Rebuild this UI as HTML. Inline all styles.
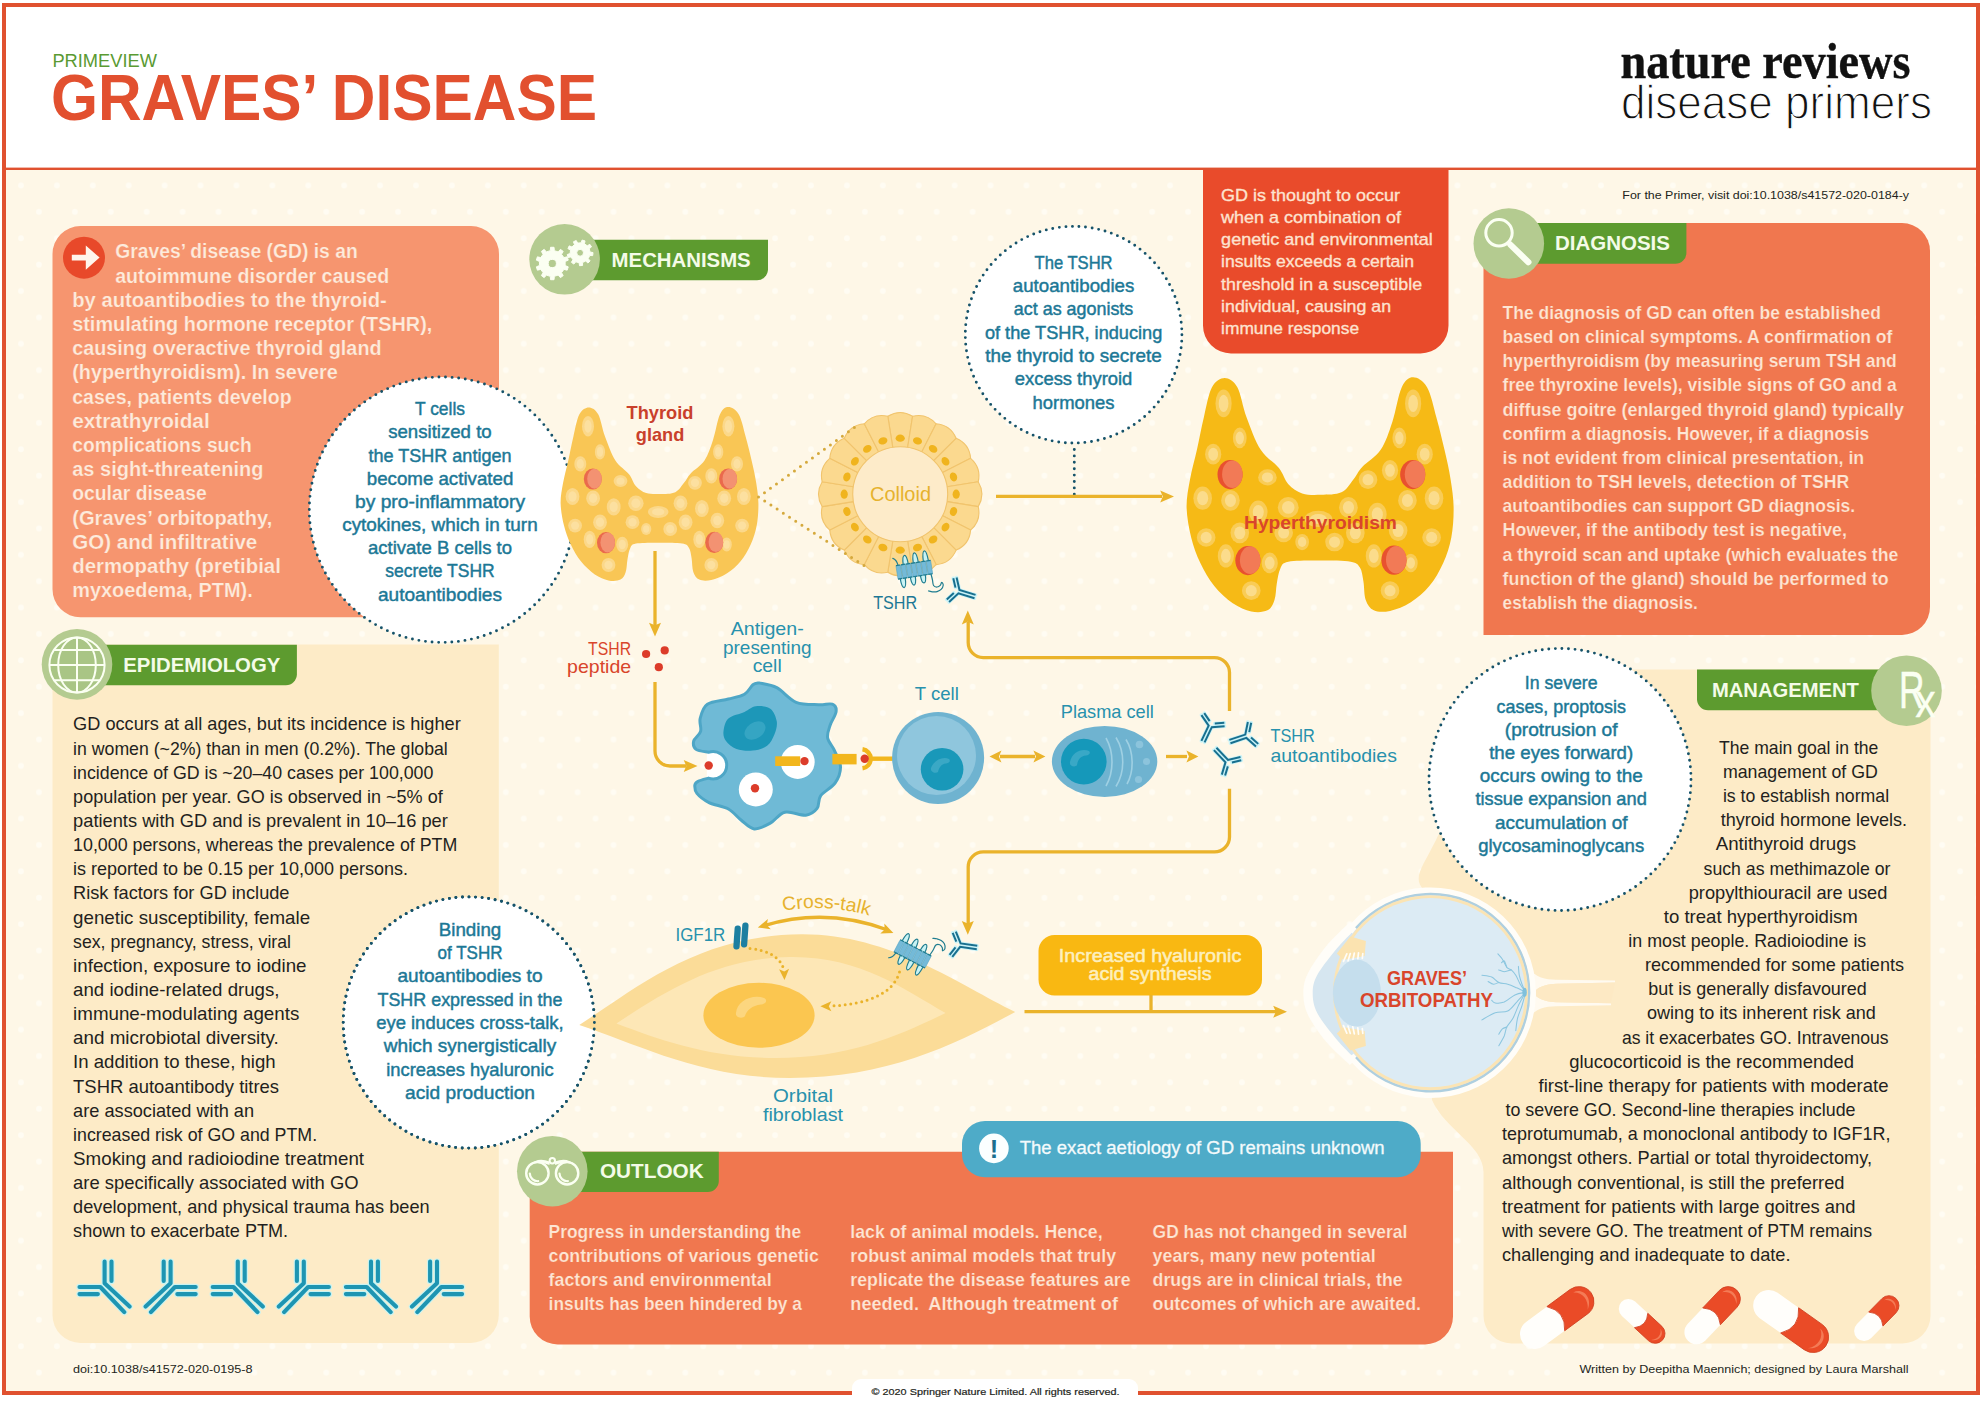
<!DOCTYPE html>
<html lang="en"><head><meta charset="utf-8"><title>Graves' disease PrimeView</title>
<style>
html,body{margin:0;padding:0;background:#fff;}
body{width:1984px;height:1401px;overflow:hidden;}
svg{display:block;font-family:"Liberation Sans",sans-serif;}
text{white-space:pre;}
</style></head><body>
<svg width="1984" height="1401" viewBox="0 0 1984 1401">
<defs>
<pattern id="dots" x="3.05" y="172.3" width="35.91" height="52.76" patternUnits="userSpaceOnUse">
<circle cx="17.95" cy="13.19" r="2.9" fill="#fffcf3"/><circle cx="0" cy="39.57" r="2.9" fill="#fffcf3"/><circle cx="35.91" cy="39.57" r="2.9" fill="#fffcf3"/>
</pattern>
</defs>
<rect x="0" y="0" width="1984" height="1401" fill="#fff"/>
<rect x="4" y="169" width="1974" height="1224" fill="#fef7e7"/>
<rect x="4" y="169" width="1974" height="1224" fill="url(#dots)"/>
<rect x="4" y="5" width="1974" height="163" fill="#fff"/>
<path d="M80.5,226.0 L471.0,226.0 A28,28 0 0 1 499.0,254.0 L499.0,589.3 A28,28 0 0 1 471.0,617.3 L80.5,617.3 A28,28 0 0 1 52.5,589.3 L52.5,254.0 A28,28 0 0 1 80.5,226.0 Z" fill="#f6956f" />
<path d="M52.5,644.6 L498.8,644.6 L498.8,1315.0 A28,28 0 0 1 470.8,1343.0 L80.5,1343.0 A28,28 0 0 1 52.5,1315.0 L52.5,644.6 Z" fill="#fdebc7" />
<path d="M1203.0,168.0 L1448.5,168.0 L1448.5,325.5 A28,28 0 0 1 1420.5,353.5 L1231.0,353.5 A28,28 0 0 1 1203.0,325.5 L1203.0,168.0 Z" fill="#e94b2b" />
<path d="M1483.5,223.0 L1902.0,223.0 A28,28 0 0 1 1930.0,251.0 L1930.0,607.0 A28,28 0 0 1 1902.0,635.0 L1483.5,635.0 L1483.5,223.0 Z" fill="#f0774f" />
<path d="M1483.5,669.5 L1930.5,669.5 L1930.5,1315.5 A28,28 0 0 1 1902.5,1343.5 L1511.5,1343.5 A28,28 0 0 1 1483.5,1315.5 L1483.5,1172 C1483.5,1145 1445,1130 1432,1100 L1424,890 C1412,878 1422,868 1436,840 C1446,815 1483.5,800 1483.5,780 Z" fill="#fdebc7"/>
<path d="M529.7,1151.7 L1453.0,1151.7 L1453.0,1316.5 A28,28 0 0 1 1425.0,1344.5 L557.7,1344.5 A28,28 0 0 1 529.7,1316.5 L529.7,1151.7 Z" fill="#f0774f" />
<path d="M985.0,1121.0 L1397.7,1121.0 A23,23 0 0 1 1420.7,1144.0 L1420.7,1154.3 A23,23 0 0 1 1397.7,1177.3 L985.0,1177.3 A23,23 0 0 1 962.0,1154.3 L962.0,1144.0 A23,23 0 0 1 985.0,1121.0 Z" fill="#4eabc8" />
<path d="M1054.5,935.0 L1246.0,935.0 A16,16 0 0 1 1262.0,951.0 L1262.0,979.5 A16,16 0 0 1 1246.0,995.5 L1054.5,995.5 A16,16 0 0 1 1038.5,979.5 L1038.5,951.0 A16,16 0 0 1 1054.5,935.0 Z" fill="#f9b812" />
<circle cx="442.0" cy="509.7" r="132.7" fill="#fff" stroke="#16536a" stroke-width="2.9" stroke-linecap="round" stroke-dasharray="0 6.617"/>
<circle cx="1073.6" cy="334.7" r="108.3" fill="#fff" stroke="#16536a" stroke-width="2.9" stroke-linecap="round" stroke-dasharray="0 6.606"/>
<circle cx="468.8" cy="1022.5" r="125.6" fill="#fff" stroke="#16536a" stroke-width="2.9" stroke-linecap="round" stroke-dasharray="0 6.576"/>
<circle cx="1560.0" cy="779.5" r="131.0" fill="#fff" stroke="#16536a" stroke-width="2.9" stroke-linecap="round" stroke-dasharray="0 6.585"/>
<path d="M1074.3,449.5 L1074.3,495.5" stroke="#16536a" stroke-width="2.9" stroke-linecap="round" stroke-dasharray="0 6.4" fill="none"/>
<path d="M588.8,407.4 C591.9,407.4 595.5,409.4 598.2,414.3 C600.9,419.2 602.1,428.8 605.0,436.5 C607.9,444.2 611.4,454.2 615.4,460.5 C619.4,466.8 625.6,469.9 629.0,474.2 C632.4,478.5 633.1,483.1 636.0,486.2 C638.9,489.3 642.2,491.7 646.2,493.0 C650.2,494.3 655.1,494.1 660.0,494.0 C664.9,493.9 671.3,494.1 675.3,492.2 C679.3,490.3 681.4,485.9 684.0,482.8 C686.6,479.7 687.3,477.1 690.7,473.4 C694.1,469.7 700.8,466.1 704.5,460.5 C708.2,454.9 710.4,447.7 713.0,440.0 C715.6,432.3 717.4,419.8 720.0,414.3 C722.6,408.8 725.3,407.0 728.4,407.0 C731.5,407.0 735.8,409.4 738.7,414.3 C741.6,419.2 743.5,428.8 745.6,436.5 C747.8,444.2 749.8,452.8 751.6,460.5 C753.4,468.2 755.1,475.7 756.2,482.8 C757.3,489.9 758.3,496.2 758.4,503.3 C758.5,510.4 758.0,518.7 756.7,525.6 C755.4,532.5 753.4,538.5 750.7,544.5 C748.0,550.5 744.4,556.8 740.4,561.6 C736.4,566.5 731.6,570.5 726.7,573.6 C721.9,576.7 715.9,579.0 711.3,580.0 C706.7,581.0 702.3,581.0 699.3,579.6 C696.3,578.2 694.6,575.5 693.3,571.9 C692.0,568.3 692.3,562.2 691.6,558.2 C690.9,554.2 690.6,550.3 689.0,547.9 C687.4,545.5 687.0,544.5 682.2,543.6 C677.4,542.7 667.7,542.7 660.0,542.7 C652.3,542.7 641.0,542.6 636.0,543.6 C631.0,544.6 631.4,546.0 630.0,548.7 C628.6,551.4 628.1,556.0 627.4,559.9 C626.7,563.8 626.9,568.6 625.7,571.9 C624.6,575.2 623.4,578.2 620.5,579.6 C617.6,581.0 612.8,581.3 608.5,580.4 C604.2,579.5 599.4,577.5 594.8,574.4 C590.2,571.3 585.1,566.6 581.1,561.6 C577.1,556.6 573.6,550.5 570.8,544.5 C567.9,538.5 565.7,532.5 564.0,525.6 C562.3,518.7 560.8,510.4 560.6,503.3 C560.5,496.2 561.8,489.9 563.1,482.8 C564.4,475.7 566.6,468.2 568.3,460.5 C570.0,452.8 571.5,444.2 573.4,436.5 C575.2,428.8 576.8,419.2 579.4,414.3 C582.0,409.4 585.7,407.4 588.8,407.4Z" fill="#f9c655"/>
<ellipse cx="588.0" cy="426.3" rx="6.0" ry="10.3" fill="#fbd88a"/>
<ellipse cx="588.0" cy="426.3" rx="3.6" ry="6.4" fill="#fce0a0"/>
<ellipse cx="600.0" cy="451.9" rx="5.1" ry="7.7" fill="#fbd88a"/>
<ellipse cx="600.0" cy="451.9" rx="3.1" ry="4.8" fill="#fce0a0"/>
<ellipse cx="580.3" cy="463.9" rx="6.0" ry="7.7" fill="#fbd88a"/>
<ellipse cx="580.3" cy="463.9" rx="3.6" ry="4.8" fill="#fce0a0"/>
<ellipse cx="572.5" cy="496.5" rx="6.9" ry="8.6" fill="#fbd88a"/>
<ellipse cx="572.5" cy="496.5" rx="4.1" ry="5.3" fill="#fce0a0"/>
<ellipse cx="593.1" cy="498.2" rx="6.9" ry="7.7" fill="#fbd88a"/>
<ellipse cx="593.1" cy="498.2" rx="4.1" ry="4.8" fill="#fce0a0"/>
<ellipse cx="613.7" cy="506.8" rx="6.9" ry="8.6" fill="#fbd88a"/>
<ellipse cx="613.7" cy="506.8" rx="4.1" ry="5.3" fill="#fce0a0"/>
<ellipse cx="575.1" cy="525.6" rx="6.9" ry="6.9" fill="#fbd88a"/>
<ellipse cx="575.1" cy="525.6" rx="4.1" ry="4.2" fill="#fce0a0"/>
<ellipse cx="600.0" cy="522.2" rx="6.9" ry="7.7" fill="#fbd88a"/>
<ellipse cx="600.0" cy="522.2" rx="4.1" ry="4.8" fill="#fce0a0"/>
<ellipse cx="589.7" cy="539.3" rx="6.0" ry="8.6" fill="#fbd88a"/>
<ellipse cx="589.7" cy="539.3" rx="3.6" ry="5.3" fill="#fce0a0"/>
<ellipse cx="608.5" cy="565.0" rx="6.9" ry="6.9" fill="#fbd88a"/>
<ellipse cx="608.5" cy="565.0" rx="4.1" ry="4.2" fill="#fce0a0"/>
<ellipse cx="620.5" cy="481.1" rx="6.9" ry="6.0" fill="#fbd88a"/>
<ellipse cx="620.5" cy="481.1" rx="4.1" ry="3.7" fill="#fce0a0"/>
<ellipse cx="635.9" cy="503.3" rx="7.7" ry="7.7" fill="#fbd88a"/>
<ellipse cx="635.9" cy="503.3" rx="4.6" ry="4.8" fill="#fce0a0"/>
<ellipse cx="632.5" cy="522.2" rx="6.9" ry="6.9" fill="#fbd88a"/>
<ellipse cx="632.5" cy="522.2" rx="4.1" ry="4.2" fill="#fce0a0"/>
<ellipse cx="646.2" cy="529.0" rx="5.1" ry="6.0" fill="#fbd88a"/>
<ellipse cx="646.2" cy="529.0" rx="3.1" ry="3.7" fill="#fce0a0"/>
<ellipse cx="658.2" cy="511.9" rx="10.3" ry="6.0" fill="#fbd88a"/>
<ellipse cx="658.2" cy="511.9" rx="6.2" ry="3.7" fill="#fce0a0"/>
<ellipse cx="670.2" cy="529.0" rx="6.9" ry="6.9" fill="#fbd88a"/>
<ellipse cx="670.2" cy="529.0" rx="4.1" ry="4.2" fill="#fce0a0"/>
<ellipse cx="680.5" cy="503.3" rx="6.9" ry="7.7" fill="#fbd88a"/>
<ellipse cx="680.5" cy="503.3" rx="4.1" ry="4.8" fill="#fce0a0"/>
<ellipse cx="685.6" cy="522.2" rx="6.9" ry="7.7" fill="#fbd88a"/>
<ellipse cx="685.6" cy="522.2" rx="4.1" ry="4.8" fill="#fce0a0"/>
<ellipse cx="695.0" cy="482.8" rx="6.9" ry="6.9" fill="#fbd88a"/>
<ellipse cx="695.0" cy="482.8" rx="4.1" ry="4.2" fill="#fce0a0"/>
<ellipse cx="701.9" cy="508.5" rx="6.9" ry="8.6" fill="#fbd88a"/>
<ellipse cx="701.9" cy="508.5" rx="4.1" ry="5.3" fill="#fce0a0"/>
<ellipse cx="699.3" cy="539.3" rx="6.0" ry="8.6" fill="#fbd88a"/>
<ellipse cx="699.3" cy="539.3" rx="3.6" ry="5.3" fill="#fce0a0"/>
<ellipse cx="711.3" cy="475.9" rx="6.0" ry="7.7" fill="#fbd88a"/>
<ellipse cx="711.3" cy="475.9" rx="3.6" ry="4.8" fill="#fce0a0"/>
<ellipse cx="717.3" cy="520.5" rx="6.9" ry="7.7" fill="#fbd88a"/>
<ellipse cx="717.3" cy="520.5" rx="4.1" ry="4.8" fill="#fce0a0"/>
<ellipse cx="718.2" cy="451.9" rx="5.1" ry="7.7" fill="#fbd88a"/>
<ellipse cx="718.2" cy="451.9" rx="3.1" ry="4.8" fill="#fce0a0"/>
<ellipse cx="728.4" cy="426.3" rx="6.0" ry="10.3" fill="#fbd88a"/>
<ellipse cx="728.4" cy="426.3" rx="3.6" ry="6.4" fill="#fce0a0"/>
<ellipse cx="737.0" cy="463.9" rx="6.0" ry="7.7" fill="#fbd88a"/>
<ellipse cx="737.0" cy="463.9" rx="3.6" ry="4.8" fill="#fce0a0"/>
<ellipse cx="743.9" cy="496.5" rx="6.9" ry="8.6" fill="#fbd88a"/>
<ellipse cx="743.9" cy="496.5" rx="4.1" ry="5.3" fill="#fce0a0"/>
<ellipse cx="724.2" cy="498.2" rx="6.9" ry="7.7" fill="#fbd88a"/>
<ellipse cx="724.2" cy="498.2" rx="4.1" ry="4.8" fill="#fce0a0"/>
<ellipse cx="742.1" cy="525.6" rx="6.9" ry="6.9" fill="#fbd88a"/>
<ellipse cx="742.1" cy="525.6" rx="4.1" ry="4.2" fill="#fce0a0"/>
<ellipse cx="711.3" cy="565.0" rx="6.9" ry="6.9" fill="#fbd88a"/>
<ellipse cx="711.3" cy="565.0" rx="4.1" ry="4.2" fill="#fce0a0"/>
<ellipse cx="726.7" cy="544.5" rx="5.1" ry="6.9" fill="#fbd88a"/>
<ellipse cx="726.7" cy="544.5" rx="3.1" ry="4.2" fill="#fce0a0"/>
<ellipse cx="622.2" cy="544.5" rx="6.0" ry="7.7" fill="#fbd88a"/>
<ellipse cx="622.2" cy="544.5" rx="3.6" ry="4.8" fill="#fce0a0"/>
<ellipse cx="592.8" cy="479.0" rx="9.0" ry="10.6" fill="#ea6a4c"/>
<ellipse cx="594.5" cy="478.7" rx="7.3" ry="10.0" fill="#f39272"/>
<ellipse cx="728.1" cy="479.0" rx="9.0" ry="10.6" fill="#ea6a4c"/>
<ellipse cx="729.8" cy="478.7" rx="7.3" ry="10.0" fill="#f39272"/>
<ellipse cx="606.0" cy="542.7" rx="9.0" ry="10.6" fill="#ea6a4c"/>
<ellipse cx="607.7" cy="542.4" rx="7.3" ry="10.0" fill="#f39272"/>
<ellipse cx="714.2" cy="542.4" rx="9.0" ry="10.6" fill="#ea6a4c"/>
<ellipse cx="715.9" cy="542.1" rx="7.3" ry="10.0" fill="#f39272"/>
<g transform="translate(1320.1,494.4) scale(1.35) translate(-659.5,-493.7)">
<path d="M588.8,407.4 C591.9,407.4 595.5,409.4 598.2,414.3 C600.9,419.2 602.1,428.8 605.0,436.5 C607.9,444.2 611.4,454.2 615.4,460.5 C619.4,466.8 625.6,469.9 629.0,474.2 C632.4,478.5 633.1,483.1 636.0,486.2 C638.9,489.3 642.2,491.7 646.2,493.0 C650.2,494.3 655.1,494.1 660.0,494.0 C664.9,493.9 671.3,494.1 675.3,492.2 C679.3,490.3 681.4,485.9 684.0,482.8 C686.6,479.7 687.3,477.1 690.7,473.4 C694.1,469.7 700.8,466.1 704.5,460.5 C708.2,454.9 710.4,447.7 713.0,440.0 C715.6,432.3 717.4,419.8 720.0,414.3 C722.6,408.8 725.3,407.0 728.4,407.0 C731.5,407.0 735.8,409.4 738.7,414.3 C741.6,419.2 743.5,428.8 745.6,436.5 C747.8,444.2 749.8,452.8 751.6,460.5 C753.4,468.2 755.1,475.7 756.2,482.8 C757.3,489.9 758.3,496.2 758.4,503.3 C758.5,510.4 758.0,518.7 756.7,525.6 C755.4,532.5 753.4,538.5 750.7,544.5 C748.0,550.5 744.4,556.8 740.4,561.6 C736.4,566.5 731.6,570.5 726.7,573.6 C721.9,576.7 715.9,579.0 711.3,580.0 C706.7,581.0 702.3,581.0 699.3,579.6 C696.3,578.2 694.6,575.5 693.3,571.9 C692.0,568.3 692.3,562.2 691.6,558.2 C690.9,554.2 690.6,550.3 689.0,547.9 C687.4,545.5 687.0,544.5 682.2,543.6 C677.4,542.7 667.7,542.7 660.0,542.7 C652.3,542.7 641.0,542.6 636.0,543.6 C631.0,544.6 631.4,546.0 630.0,548.7 C628.6,551.4 628.1,556.0 627.4,559.9 C626.7,563.8 626.9,568.6 625.7,571.9 C624.6,575.2 623.4,578.2 620.5,579.6 C617.6,581.0 612.8,581.3 608.5,580.4 C604.2,579.5 599.4,577.5 594.8,574.4 C590.2,571.3 585.1,566.6 581.1,561.6 C577.1,556.6 573.6,550.5 570.8,544.5 C567.9,538.5 565.7,532.5 564.0,525.6 C562.3,518.7 560.8,510.4 560.6,503.3 C560.5,496.2 561.8,489.9 563.1,482.8 C564.4,475.7 566.6,468.2 568.3,460.5 C570.0,452.8 571.5,444.2 573.4,436.5 C575.2,428.8 576.8,419.2 579.4,414.3 C582.0,409.4 585.7,407.4 588.8,407.4Z" fill="#f6ba16"/>
<ellipse cx="588.0" cy="426.3" rx="6.0" ry="10.3" fill="#f9cc56"/>
<ellipse cx="588.0" cy="426.3" rx="3.6" ry="6.4" fill="#fbdc8c"/>
<ellipse cx="600.0" cy="451.9" rx="5.1" ry="7.7" fill="#f9cc56"/>
<ellipse cx="600.0" cy="451.9" rx="3.1" ry="4.8" fill="#fbdc8c"/>
<ellipse cx="580.3" cy="463.9" rx="6.0" ry="7.7" fill="#f9cc56"/>
<ellipse cx="580.3" cy="463.9" rx="3.6" ry="4.8" fill="#fbdc8c"/>
<ellipse cx="572.5" cy="496.5" rx="6.9" ry="8.6" fill="#f9cc56"/>
<ellipse cx="572.5" cy="496.5" rx="4.1" ry="5.3" fill="#fbdc8c"/>
<ellipse cx="593.1" cy="498.2" rx="6.9" ry="7.7" fill="#f9cc56"/>
<ellipse cx="593.1" cy="498.2" rx="4.1" ry="4.8" fill="#fbdc8c"/>
<ellipse cx="613.7" cy="506.8" rx="6.9" ry="8.6" fill="#f9cc56"/>
<ellipse cx="613.7" cy="506.8" rx="4.1" ry="5.3" fill="#fbdc8c"/>
<ellipse cx="575.1" cy="525.6" rx="6.9" ry="6.9" fill="#f9cc56"/>
<ellipse cx="575.1" cy="525.6" rx="4.1" ry="4.2" fill="#fbdc8c"/>
<ellipse cx="600.0" cy="522.2" rx="6.9" ry="7.7" fill="#f9cc56"/>
<ellipse cx="600.0" cy="522.2" rx="4.1" ry="4.8" fill="#fbdc8c"/>
<ellipse cx="589.7" cy="539.3" rx="6.0" ry="8.6" fill="#f9cc56"/>
<ellipse cx="589.7" cy="539.3" rx="3.6" ry="5.3" fill="#fbdc8c"/>
<ellipse cx="608.5" cy="565.0" rx="6.9" ry="6.9" fill="#f9cc56"/>
<ellipse cx="608.5" cy="565.0" rx="4.1" ry="4.2" fill="#fbdc8c"/>
<ellipse cx="620.5" cy="481.1" rx="6.9" ry="6.0" fill="#f9cc56"/>
<ellipse cx="620.5" cy="481.1" rx="4.1" ry="3.7" fill="#fbdc8c"/>
<ellipse cx="635.9" cy="503.3" rx="7.7" ry="7.7" fill="#f9cc56"/>
<ellipse cx="635.9" cy="503.3" rx="4.6" ry="4.8" fill="#fbdc8c"/>
<ellipse cx="632.5" cy="522.2" rx="6.9" ry="6.9" fill="#f9cc56"/>
<ellipse cx="632.5" cy="522.2" rx="4.1" ry="4.2" fill="#fbdc8c"/>
<ellipse cx="646.2" cy="529.0" rx="5.1" ry="6.0" fill="#f9cc56"/>
<ellipse cx="646.2" cy="529.0" rx="3.1" ry="3.7" fill="#fbdc8c"/>
<ellipse cx="658.2" cy="511.9" rx="10.3" ry="6.0" fill="#f9cc56"/>
<ellipse cx="658.2" cy="511.9" rx="6.2" ry="3.7" fill="#fbdc8c"/>
<ellipse cx="670.2" cy="529.0" rx="6.9" ry="6.9" fill="#f9cc56"/>
<ellipse cx="670.2" cy="529.0" rx="4.1" ry="4.2" fill="#fbdc8c"/>
<ellipse cx="680.5" cy="503.3" rx="6.9" ry="7.7" fill="#f9cc56"/>
<ellipse cx="680.5" cy="503.3" rx="4.1" ry="4.8" fill="#fbdc8c"/>
<ellipse cx="685.6" cy="522.2" rx="6.9" ry="7.7" fill="#f9cc56"/>
<ellipse cx="685.6" cy="522.2" rx="4.1" ry="4.8" fill="#fbdc8c"/>
<ellipse cx="695.0" cy="482.8" rx="6.9" ry="6.9" fill="#f9cc56"/>
<ellipse cx="695.0" cy="482.8" rx="4.1" ry="4.2" fill="#fbdc8c"/>
<ellipse cx="701.9" cy="508.5" rx="6.9" ry="8.6" fill="#f9cc56"/>
<ellipse cx="701.9" cy="508.5" rx="4.1" ry="5.3" fill="#fbdc8c"/>
<ellipse cx="699.3" cy="539.3" rx="6.0" ry="8.6" fill="#f9cc56"/>
<ellipse cx="699.3" cy="539.3" rx="3.6" ry="5.3" fill="#fbdc8c"/>
<ellipse cx="711.3" cy="475.9" rx="6.0" ry="7.7" fill="#f9cc56"/>
<ellipse cx="711.3" cy="475.9" rx="3.6" ry="4.8" fill="#fbdc8c"/>
<ellipse cx="717.3" cy="520.5" rx="6.9" ry="7.7" fill="#f9cc56"/>
<ellipse cx="717.3" cy="520.5" rx="4.1" ry="4.8" fill="#fbdc8c"/>
<ellipse cx="718.2" cy="451.9" rx="5.1" ry="7.7" fill="#f9cc56"/>
<ellipse cx="718.2" cy="451.9" rx="3.1" ry="4.8" fill="#fbdc8c"/>
<ellipse cx="728.4" cy="426.3" rx="6.0" ry="10.3" fill="#f9cc56"/>
<ellipse cx="728.4" cy="426.3" rx="3.6" ry="6.4" fill="#fbdc8c"/>
<ellipse cx="737.0" cy="463.9" rx="6.0" ry="7.7" fill="#f9cc56"/>
<ellipse cx="737.0" cy="463.9" rx="3.6" ry="4.8" fill="#fbdc8c"/>
<ellipse cx="743.9" cy="496.5" rx="6.9" ry="8.6" fill="#f9cc56"/>
<ellipse cx="743.9" cy="496.5" rx="4.1" ry="5.3" fill="#fbdc8c"/>
<ellipse cx="724.2" cy="498.2" rx="6.9" ry="7.7" fill="#f9cc56"/>
<ellipse cx="724.2" cy="498.2" rx="4.1" ry="4.8" fill="#fbdc8c"/>
<ellipse cx="742.1" cy="525.6" rx="6.9" ry="6.9" fill="#f9cc56"/>
<ellipse cx="742.1" cy="525.6" rx="4.1" ry="4.2" fill="#fbdc8c"/>
<ellipse cx="711.3" cy="565.0" rx="6.9" ry="6.9" fill="#f9cc56"/>
<ellipse cx="711.3" cy="565.0" rx="4.1" ry="4.2" fill="#fbdc8c"/>
<ellipse cx="726.7" cy="544.5" rx="5.1" ry="6.9" fill="#f9cc56"/>
<ellipse cx="726.7" cy="544.5" rx="3.1" ry="4.2" fill="#fbdc8c"/>
<ellipse cx="622.2" cy="544.5" rx="6.0" ry="7.7" fill="#f9cc56"/>
<ellipse cx="622.2" cy="544.5" rx="3.6" ry="4.8" fill="#fbdc8c"/>
<ellipse cx="592.8" cy="479.0" rx="9.3" ry="10.8" fill="#e8512f"/>
<ellipse cx="594.5" cy="478.7" rx="7.6" ry="10.2" fill="#f27a56"/>
<ellipse cx="728.1" cy="479.0" rx="9.3" ry="10.8" fill="#e8512f"/>
<ellipse cx="729.8" cy="478.7" rx="7.6" ry="10.2" fill="#f27a56"/>
<ellipse cx="606.0" cy="542.7" rx="9.3" ry="10.8" fill="#e8512f"/>
<ellipse cx="607.7" cy="542.4" rx="7.6" ry="10.2" fill="#f27a56"/>
<ellipse cx="714.2" cy="542.4" rx="9.3" ry="10.8" fill="#e8512f"/>
<ellipse cx="715.9" cy="542.1" rx="7.6" ry="10.2" fill="#f27a56"/>
</g>
<path d="M893.0,448.8 L887.8,416.2 Q900.2,408.7 912.6,416.2 L907.4,448.8 Z" fill="#fbd98f" stroke="#f1c46d" stroke-width="1.1" stroke-linejoin="round"/>
<path d="M907.4,448.8 L912.6,416.2 Q926.6,412.9 936.1,423.8 L921.1,453.2 Z" fill="#fbd98f" stroke="#f1c46d" stroke-width="1.1" stroke-linejoin="round"/>
<path d="M921.1,453.2 L936.1,423.8 Q950.5,425.0 956.1,438.3 L932.7,461.7 Z" fill="#fbd98f" stroke="#f1c46d" stroke-width="1.1" stroke-linejoin="round"/>
<path d="M932.7,461.7 L956.1,438.3 Q969.4,443.9 970.6,458.3 L941.2,473.3 Z" fill="#fbd98f" stroke="#f1c46d" stroke-width="1.1" stroke-linejoin="round"/>
<path d="M941.2,473.3 L970.6,458.3 Q981.5,467.8 978.2,481.8 L945.6,487.0 Z" fill="#fbd98f" stroke="#f1c46d" stroke-width="1.1" stroke-linejoin="round"/>
<path d="M945.6,487.0 L978.2,481.8 Q985.7,494.2 978.2,506.6 L945.6,501.4 Z" fill="#fbd98f" stroke="#f1c46d" stroke-width="1.1" stroke-linejoin="round"/>
<path d="M945.6,501.4 L978.2,506.6 Q981.5,520.6 970.6,530.1 L941.2,515.1 Z" fill="#fbd98f" stroke="#f1c46d" stroke-width="1.1" stroke-linejoin="round"/>
<path d="M941.2,515.1 L970.6,530.1 Q969.4,544.5 956.1,550.1 L932.7,526.7 Z" fill="#fbd98f" stroke="#f1c46d" stroke-width="1.1" stroke-linejoin="round"/>
<path d="M932.7,526.7 L956.1,550.1 Q950.5,563.4 936.1,564.6 L921.1,535.2 Z" fill="#fbd98f" stroke="#f1c46d" stroke-width="1.1" stroke-linejoin="round"/>
<path d="M921.1,535.2 L936.1,564.6 Q926.6,575.5 912.6,572.2 L907.4,539.6 Z" fill="#fbd98f" stroke="#f1c46d" stroke-width="1.1" stroke-linejoin="round"/>
<path d="M907.4,539.6 L912.6,572.2 Q900.2,579.7 887.8,572.2 L893.0,539.6 Z" fill="#fbd98f" stroke="#f1c46d" stroke-width="1.1" stroke-linejoin="round"/>
<path d="M893.0,539.6 L887.8,572.2 Q873.8,575.5 864.3,564.6 L879.3,535.2 Z" fill="#fbd98f" stroke="#f1c46d" stroke-width="1.1" stroke-linejoin="round"/>
<path d="M879.3,535.2 L864.3,564.6 Q849.9,563.4 844.3,550.1 L867.7,526.7 Z" fill="#fbd98f" stroke="#f1c46d" stroke-width="1.1" stroke-linejoin="round"/>
<path d="M867.7,526.7 L844.3,550.1 Q831.0,544.5 829.8,530.1 L859.2,515.1 Z" fill="#fbd98f" stroke="#f1c46d" stroke-width="1.1" stroke-linejoin="round"/>
<path d="M859.2,515.1 L829.8,530.1 Q818.9,520.6 822.2,506.6 L854.8,501.4 Z" fill="#fbd98f" stroke="#f1c46d" stroke-width="1.1" stroke-linejoin="round"/>
<path d="M854.8,501.4 L822.2,506.6 Q814.7,494.2 822.2,481.8 L854.8,487.0 Z" fill="#fbd98f" stroke="#f1c46d" stroke-width="1.1" stroke-linejoin="round"/>
<path d="M854.8,487.0 L822.2,481.8 Q818.9,467.8 829.8,458.3 L859.2,473.3 Z" fill="#fbd98f" stroke="#f1c46d" stroke-width="1.1" stroke-linejoin="round"/>
<path d="M859.2,473.3 L829.8,458.3 Q831.0,443.9 844.3,438.3 L867.7,461.7 Z" fill="#fbd98f" stroke="#f1c46d" stroke-width="1.1" stroke-linejoin="round"/>
<path d="M867.7,461.7 L844.3,438.3 Q849.9,425.0 864.3,423.8 L879.3,453.2 Z" fill="#fbd98f" stroke="#f1c46d" stroke-width="1.1" stroke-linejoin="round"/>
<path d="M879.3,453.2 L864.3,423.8 Q873.8,412.9 887.8,416.2 L893.0,448.8 Z" fill="#fbd98f" stroke="#f1c46d" stroke-width="1.1" stroke-linejoin="round"/>
<circle cx="900.2" cy="494.2" r="47.5" fill="#fdebc9" stroke="#f1c46d" stroke-width="1.1"/>
<ellipse cx="900.2" cy="438.2" rx="3.6" ry="4.6" fill="#f0b41e" transform="rotate(-90.0 900.2 438.2)"/>
<ellipse cx="917.5" cy="440.9" rx="3.6" ry="4.6" fill="#f0b41e" transform="rotate(-72.0 917.5 440.9)"/>
<ellipse cx="933.1" cy="448.9" rx="3.6" ry="4.6" fill="#f0b41e" transform="rotate(-54.0 933.1 448.9)"/>
<ellipse cx="945.5" cy="461.3" rx="3.6" ry="4.6" fill="#f0b41e" transform="rotate(-36.0 945.5 461.3)"/>
<ellipse cx="953.5" cy="476.9" rx="3.6" ry="4.6" fill="#f0b41e" transform="rotate(-18.0 953.5 476.9)"/>
<ellipse cx="956.2" cy="494.2" rx="3.6" ry="4.6" fill="#f0b41e" transform="rotate(0.0 956.2 494.2)"/>
<ellipse cx="953.5" cy="511.5" rx="3.6" ry="4.6" fill="#f0b41e" transform="rotate(18.0 953.5 511.5)"/>
<ellipse cx="945.5" cy="527.1" rx="3.6" ry="4.6" fill="#f0b41e" transform="rotate(36.0 945.5 527.1)"/>
<ellipse cx="933.1" cy="539.5" rx="3.6" ry="4.6" fill="#f0b41e" transform="rotate(54.0 933.1 539.5)"/>
<ellipse cx="917.5" cy="547.5" rx="3.6" ry="4.6" fill="#f0b41e" transform="rotate(72.0 917.5 547.5)"/>
<ellipse cx="900.2" cy="550.2" rx="3.6" ry="4.6" fill="#f0b41e" transform="rotate(90.0 900.2 550.2)"/>
<ellipse cx="882.9" cy="547.5" rx="3.6" ry="4.6" fill="#f0b41e" transform="rotate(108.0 882.9 547.5)"/>
<ellipse cx="867.3" cy="539.5" rx="3.6" ry="4.6" fill="#f0b41e" transform="rotate(126.0 867.3 539.5)"/>
<ellipse cx="854.9" cy="527.1" rx="3.6" ry="4.6" fill="#f0b41e" transform="rotate(144.0 854.9 527.1)"/>
<ellipse cx="846.9" cy="511.5" rx="3.6" ry="4.6" fill="#f0b41e" transform="rotate(162.0 846.9 511.5)"/>
<ellipse cx="844.2" cy="494.2" rx="3.6" ry="4.6" fill="#f0b41e" transform="rotate(180.0 844.2 494.2)"/>
<ellipse cx="846.9" cy="476.9" rx="3.6" ry="4.6" fill="#f0b41e" transform="rotate(198.0 846.9 476.9)"/>
<ellipse cx="854.9" cy="461.3" rx="3.6" ry="4.6" fill="#f0b41e" transform="rotate(216.0 854.9 461.3)"/>
<ellipse cx="867.3" cy="448.9" rx="3.6" ry="4.6" fill="#f0b41e" transform="rotate(234.0 867.3 448.9)"/>
<ellipse cx="882.9" cy="440.9" rx="3.6" ry="4.6" fill="#f0b41e" transform="rotate(252.0 882.9 440.9)"/>
<path d="M758.5,497 L854.4,427.5 M758.5,497 L865.4,566.5" stroke="#d5a93c" stroke-width="3" stroke-linecap="round" stroke-dasharray="0 7.4" fill="none"/>
<path d="M655,551 V626" fill="none" stroke="#eab32b" stroke-width="3.3"/>
<path d="M655.0,636.5 L649.0,622.7 L655.0,625.3 L661.0,622.7 Z" fill="#eab32b"/>
<path d="M655,682 V751 A15,15 0 0 0 670,766 H686" fill="none" stroke="#eab32b" stroke-width="3.3"/>
<path d="M697.5,766.0 L683.7,772.0 L686.3,766.0 L683.7,760.0 Z" fill="#eab32b"/>
<path d="M996,496.4 H1162" fill="none" stroke="#eab32b" stroke-width="3.3"/>
<path d="M1174.0,496.4 L1160.2,502.4 L1162.8,496.4 L1160.2,490.4 Z" fill="#eab32b"/>
<path d="M1000,756.5 H1035" fill="none" stroke="#eab32b" stroke-width="3.3"/>
<path d="M989.5,756.5 L1001.5,750.5 L998.9,756.5 L1001.5,762.5 Z" fill="#eab32b"/>
<path d="M1045.4,756.5 L1033.4,762.5 L1036.0,756.5 L1033.4,750.5 Z" fill="#eab32b"/>
<path d="M1166,756.5 H1187" fill="none" stroke="#eab32b" stroke-width="3.3"/>
<path d="M1198.4,756.5 L1186.4,762.5 L1189.0,756.5 L1186.4,750.5 Z" fill="#eab32b"/>
<path d="M1229.5,711 V672.6 A15,15 0 0 0 1214.5,657.6 H983.2 A15,15 0 0 1 968.2,642.6 V622" fill="none" stroke="#eab32b" stroke-width="3.3"/>
<path d="M967.8,610.6 L973.8,624.4 L967.8,621.8 L961.8,624.4 Z" fill="#eab32b"/>
<path d="M1229.5,788.7 V836.9 A15,15 0 0 1 1214.5,851.9 H983.2 A15,15 0 0 0 968.2,866.9 V925" fill="none" stroke="#eab32b" stroke-width="3.3"/>
<path d="M967.8,934.8 L961.8,921.0 L967.8,923.6 L973.8,921.0 Z" fill="#eab32b"/>
<path d="M1024.5,1011.7 H1276 M1151,995 V1011.7" fill="none" stroke="#eab32b" stroke-width="3.3"/>
<path d="M1287.0,1011.7 L1273.2,1017.7 L1275.8,1011.7 L1273.2,1005.7 Z" fill="#eab32b"/>
<path d="M579.3,1025.1 C640,985 700,935 801.9,934.2 C890,934 960,985 1015.2,1011.9 C960,1042 890,1078 790,1078 C700,1078 640,1045 579.3,1025.1Z" fill="#fbdc98"/>
<path d="M616.4,1023.5 C670,988 720,958 790,957 C860,956 905,990 945.6,1013 C900,1035 850,1058 775,1058 C710,1058 660,1040 616.4,1023.5Z" fill="#fde7b6"/>
<ellipse cx="759" cy="1015.3" rx="55.6" ry="32.5" fill="#fbc650"/>
<path d="M736,1013 C737,1001 752,994 764,998 C768,1000 766,1004 761,1004.5 C752,1005.5 747,1010 745,1016 C743,1019 735,1018 736,1013Z" fill="#fcd67f"/>
<rect x="734" y="925.5" width="6.3" height="24" rx="3" fill="#1c7fa1" transform="rotate(4 737 937)"/>
<rect x="741.6" y="922.5" width="6.3" height="25" rx="3" fill="#1c7fa1" transform="rotate(4 744 935)"/>
<path d="M764,925.6 Q826,907 887,929.8" fill="none" stroke="#eab32b" stroke-width="3.3"/>
<path d="M757.8,927.5 L767.9,919.1 L766.8,924.9 L770.8,929.3 Z" fill="#eab32b"/>
<path d="M893.4,933.0 L880.3,933.4 L884.7,929.5 L884.3,923.6 Z" fill="#eab32b"/>
<path d="M750,948.5 C768,950 781,958 783.5,969" fill="none" stroke="#eab32b" stroke-width="3" stroke-linecap="round" stroke-dasharray="0 5.6"/>
<path d="M784.5,980.0 L779.1,969.2 L784.2,971.6 L789.1,968.8 Z" fill="#eab32b"/>
<path d="M899.5,972 C893,995 865,1004 832,1006" fill="none" stroke="#eab32b" stroke-width="3" stroke-linecap="round" stroke-dasharray="0 5.6"/>
<path d="M820.4,1006.3 L831.4,1001.3 L828.8,1006.3 L831.4,1011.3 Z" fill="#eab32b"/>
<g transform="translate(914.3,569.7) rotate(-8.8) scale(1,1)">
<path d="M-10.2,-6.5 C-9.9,-18.6 -5.4,-18.6 -5.1,-6.5 M-0.0,-6.5 C0.3,-20.0 4.8,-20.0 5.1,-6.5 M10.2,-6.5 C10.5,-20.7 15.0,-20.7 15.3,-6.5  M-15.3,6.5 C-15.0,19.3 -10.5,19.3 -10.2,6.5 M-5.1,6.5 C-4.8,18.0 -0.3,18.0 -0.0,6.5 M5.1,6.5 C5.4,17.3 9.9,17.3 10.2,6.5 " fill="#c9f3f4" stroke="#1f7d90" stroke-width="1.2"/>
<path d="M-15.3,-6.5 C-15.8,-11 -17.3,-13.5 -19.5,-14.5" fill="none" stroke="#1f7d90" stroke-width="1.2" stroke-linecap="round"/>
<path d="M15.8,6.8 C15.9,7.8 16.3,11.0 16.4,13.0 C16.5,15.0 16.0,17.3 16.6,18.6 C17.2,19.9 18.8,20.5 19.9,20.6 C21.0,20.7 22.6,19.9 23.5,19.2 C24.4,18.5 24.7,16.5 25.1,16.6 C25.6,16.7 26.5,18.6 26.2,19.8 C25.9,21.0 24.7,22.7 23.5,23.6 C22.3,24.5 20.7,24.9 19.2,25.1 C17.7,25.3 15.9,24.9 14.5,24.6 C13.1,24.3 11.4,23.4 10.8,23.2" fill="none" stroke="#1f7d90" stroke-width="1.2" stroke-linecap="round" stroke-linejoin="round"/>
<rect x="-17.55" y="-6.8" width="4.5" height="13.6" rx="0.8" fill="#74bad8" stroke="#4a9fc2" stroke-width="0.5"/>
<rect x="-12.45" y="-6.8" width="4.5" height="13.6" rx="0.8" fill="#74bad8" stroke="#4a9fc2" stroke-width="0.5"/>
<rect x="-7.35" y="-6.8" width="4.5" height="13.6" rx="0.8" fill="#74bad8" stroke="#4a9fc2" stroke-width="0.5"/>
<rect x="-2.25" y="-6.8" width="4.5" height="13.6" rx="0.8" fill="#74bad8" stroke="#4a9fc2" stroke-width="0.5"/>
<rect x="2.85" y="-6.8" width="4.5" height="13.6" rx="0.8" fill="#74bad8" stroke="#4a9fc2" stroke-width="0.5"/>
<rect x="7.95" y="-6.8" width="4.5" height="13.6" rx="0.8" fill="#74bad8" stroke="#4a9fc2" stroke-width="0.5"/>
<rect x="13.05" y="-6.8" width="4.5" height="13.6" rx="0.8" fill="#74bad8" stroke="#4a9fc2" stroke-width="0.5"/>
<path d="M-17.55,6.8 h4.5 M-17.55,-6.8 h4.5" stroke="#1f7d90" stroke-width="1.2"/>
<path d="M-12.45,6.8 h4.5 M-12.45,-6.8 h4.5" stroke="#1f7d90" stroke-width="1.2"/>
<path d="M-7.35,6.8 h4.5 M-7.35,-6.8 h4.5" stroke="#1f7d90" stroke-width="1.2"/>
<path d="M-2.25,6.8 h4.5 M-2.25,-6.8 h4.5" stroke="#1f7d90" stroke-width="1.2"/>
<path d="M2.85,6.8 h4.5 M2.85,-6.8 h4.5" stroke="#1f7d90" stroke-width="1.2"/>
<path d="M7.95,6.8 h4.5 M7.95,-6.8 h4.5" stroke="#1f7d90" stroke-width="1.2"/>
<path d="M13.05,6.8 h4.5 M13.05,-6.8 h4.5" stroke="#1f7d90" stroke-width="1.2"/>
</g>
<g transform="translate(912.6,953.9) rotate(27.5) scale(1,-1)">
<path d="M-10.2,-6.5 C-9.9,-18.6 -5.4,-18.6 -5.1,-6.5 M-0.0,-6.5 C0.3,-20.0 4.8,-20.0 5.1,-6.5 M10.2,-6.5 C10.5,-20.7 15.0,-20.7 15.3,-6.5  M-15.3,6.5 C-15.0,19.3 -10.5,19.3 -10.2,6.5 M-5.1,6.5 C-4.8,18.0 -0.3,18.0 -0.0,6.5 M5.1,6.5 C5.4,17.3 9.9,17.3 10.2,6.5 " fill="#c9f3f4" stroke="#1f7d90" stroke-width="1.2"/>
<path d="M-15.3,-6.5 C-15.8,-11 -17.3,-13.5 -19.5,-14.5" fill="none" stroke="#1f7d90" stroke-width="1.2" stroke-linecap="round"/>
<path d="M15.8,6.8 C15.9,7.8 16.3,11.0 16.4,13.0 C16.5,15.0 16.0,17.3 16.6,18.6 C17.2,19.9 18.8,20.5 19.9,20.6 C21.0,20.7 22.6,19.9 23.5,19.2 C24.4,18.5 24.7,16.5 25.1,16.6 C25.6,16.7 26.5,18.6 26.2,19.8 C25.9,21.0 24.7,22.7 23.5,23.6 C22.3,24.5 20.7,24.9 19.2,25.1 C17.7,25.3 15.9,24.9 14.5,24.6 C13.1,24.3 11.4,23.4 10.8,23.2" fill="none" stroke="#1f7d90" stroke-width="1.2" stroke-linecap="round" stroke-linejoin="round"/>
<rect x="-17.55" y="-6.8" width="4.5" height="13.6" rx="0.8" fill="#74bad8" stroke="#4a9fc2" stroke-width="0.5"/>
<rect x="-12.45" y="-6.8" width="4.5" height="13.6" rx="0.8" fill="#74bad8" stroke="#4a9fc2" stroke-width="0.5"/>
<rect x="-7.35" y="-6.8" width="4.5" height="13.6" rx="0.8" fill="#74bad8" stroke="#4a9fc2" stroke-width="0.5"/>
<rect x="-2.25" y="-6.8" width="4.5" height="13.6" rx="0.8" fill="#74bad8" stroke="#4a9fc2" stroke-width="0.5"/>
<rect x="2.85" y="-6.8" width="4.5" height="13.6" rx="0.8" fill="#74bad8" stroke="#4a9fc2" stroke-width="0.5"/>
<rect x="7.95" y="-6.8" width="4.5" height="13.6" rx="0.8" fill="#74bad8" stroke="#4a9fc2" stroke-width="0.5"/>
<rect x="13.05" y="-6.8" width="4.5" height="13.6" rx="0.8" fill="#74bad8" stroke="#4a9fc2" stroke-width="0.5"/>
<path d="M-17.55,6.8 h4.5 M-17.55,-6.8 h4.5" stroke="#1f7d90" stroke-width="1.2"/>
<path d="M-12.45,6.8 h4.5 M-12.45,-6.8 h4.5" stroke="#1f7d90" stroke-width="1.2"/>
<path d="M-7.35,6.8 h4.5 M-7.35,-6.8 h4.5" stroke="#1f7d90" stroke-width="1.2"/>
<path d="M-2.25,6.8 h4.5 M-2.25,-6.8 h4.5" stroke="#1f7d90" stroke-width="1.2"/>
<path d="M2.85,6.8 h4.5 M2.85,-6.8 h4.5" stroke="#1f7d90" stroke-width="1.2"/>
<path d="M7.95,6.8 h4.5 M7.95,-6.8 h4.5" stroke="#1f7d90" stroke-width="1.2"/>
<path d="M13.05,6.8 h4.5 M13.05,-6.8 h4.5" stroke="#1f7d90" stroke-width="1.2"/>
</g>
<path d="M706.9,751.8 A14.3,14.3 0 1 1 706.9,778.6 Z" fill="#fff"/>
<path d="M759.0,682.9 C762.0,683.7 770.6,684.5 776.8,687.7 C783.0,691.0 789.1,699.4 796.1,702.3 C803.1,705.1 812.7,704.4 818.7,704.7 C824.8,705.0 829.5,703.0 832.4,704.2 C835.3,705.3 836.5,708.2 836.1,711.6 C835.8,715.1 831.7,720.5 830.3,724.8 C828.9,729.2 826.9,733.4 827.6,737.7 C828.3,742.0 832.4,745.8 834.5,750.6 C836.7,755.5 840.4,761.4 840.5,766.8 C840.6,772.2 838.5,778.1 835.2,782.9 C831.9,787.7 823.7,791.6 820.6,795.8 C817.6,800.1 819.6,805.2 817.1,808.4 C814.6,811.6 811.2,814.5 805.8,815.2 C800.4,815.8 790.8,810.9 784.8,812.3 C778.9,813.6 775.4,820.5 770.3,823.2 C765.2,826.0 759.0,829.4 754.2,828.9 C749.4,828.4 745.6,823.6 741.3,820.3 C737.0,817.0 733.8,812.0 728.4,809.0 C723.0,806.1 714.3,805.2 709.0,802.6 C703.8,800.0 699.3,796.3 696.9,793.4 C694.6,790.5 694.7,787.3 694.8,785.3 C695.0,783.3 695.8,782.5 698.1,781.3 C700.3,780.1 706.7,778.6 708.4,778.1 A13.7,13.7 0 1 0 708.4,752.3 C706.4,751.8 698.6,751.2 696.1,749.4 C693.7,747.5 693.0,744.0 693.7,741.0 C694.5,738.0 699.6,735.1 700.6,731.3 C701.7,727.5 699.0,722.9 700.2,718.4 C701.3,713.9 702.7,707.4 707.4,704.2 C712.1,701.0 722.2,700.7 728.4,699.0 C734.6,697.4 740.4,696.6 744.5,694.2 C748.6,691.8 750.5,686.7 752.9,684.8 C755.3,683.0 758.0,683.2 759.0,682.9Z" fill="#6fbad6" stroke="#4ea6c6" stroke-width="3" stroke-linejoin="round"/>
<path d="M723.5,731.3 C724.0,727.5 724.9,721.6 728.4,718.4 C731.9,715.2 739.9,714.0 744.5,711.9 C749.1,709.9 751.5,706.8 755.8,706.3 C760.1,705.8 766.8,706.2 770.3,708.7 C773.8,711.3 776.1,717.3 776.8,721.6 C777.4,725.9 776.0,730.5 774.4,734.5 C772.7,738.5 770.7,743.1 767.1,745.8 C763.5,748.5 757.7,750.1 752.6,750.6 C747.5,751.2 740.9,750.6 736.5,749.0 C732.0,747.4 728.1,743.9 726.0,741.0 C723.8,738.0 723.1,735.1 723.5,731.3Z" fill="#1d97b8"/>
<ellipse cx="755.0" cy="730.5" rx="11.5" ry="8" fill="#35a5c3" transform="rotate(-35 755.0 730.5)"/>
<circle cx="797.7" cy="761.9" r="17" fill="#fff"/>
<circle cx="755.8" cy="789.4" r="17" fill="#fff"/>
<rect x="775.2" y="756.3" width="25" height="9.7" fill="#f2b61d"/>
<rect x="832.4" y="753.9" width="24.2" height="10.5" fill="#f2b61d"/>
<path d="M862.5,749.3 A9.6,9.6 0 0 1 862.5,768.3" fill="none" stroke="#f2b61d" stroke-width="4.4"/>
<path d="M872,758.7 H895" stroke="#f2b61d" stroke-width="4.4"/>
<circle cx="708.7" cy="765.5" r="4.2" fill="#dc3c2a"/>
<circle cx="804.5" cy="761.1" r="4.2" fill="#dc3c2a"/>
<circle cx="755.0" cy="788.2" r="4.2" fill="#dc3c2a"/>
<circle cx="864.7" cy="758.7" r="4.2" fill="#dc3c2a"/>
<circle cx="646.1" cy="654.0" r="4.1" fill="#dc3c2a"/>
<circle cx="664.7" cy="650.4" r="4.1" fill="#dc3c2a"/>
<circle cx="658.8" cy="667.2" r="4.1" fill="#dc3c2a"/>
<circle cx="938.1" cy="757.9" r="46" fill="#6fb3d0"/>
<circle cx="936.5" cy="755.5" r="39.5" fill="#8fc6dd"/>
<circle cx="942.1" cy="769.2" r="21.3" fill="#1998b9"/>
<path d="M931,768 C934,760 943,756 949,759 C951,761 949,763 946,763.5 C941,764 939,768 938,772 C936,774 930,772 931,768Z" fill="#3aa8c5"/>
<ellipse cx="1104.6" cy="761.4" rx="52.7" ry="35.5" fill="#6fb3d0"/>
<g fill="none" stroke="#9fd0e3" stroke-width="1.6">
<path d="M1106,738 C1114,752 1114,772 1106,786"/><path d="M1116,737.5 C1125,752 1125,772 1116,786.5"/><path d="M1126,739.5 C1134,752 1134,772 1127,784"/>
</g>
<circle cx="1139.5" cy="744.5" r="3.8" fill="#8cc4dc"/>
<circle cx="1146.5" cy="761.5" r="3.5" fill="#8cc4dc"/>
<circle cx="1138.5" cy="779.5" r="3.6" fill="#8cc4dc"/>
<circle cx="1083.8" cy="761.6" r="22.8" fill="#1598ba"/>
<path d="M1070,762 C1072,752 1082,748 1089,751 C1091,753 1089,755 1086,755.5 C1080,756 1078,760 1077,765 C1075,768 1069,766 1070,762Z" fill="#39a8c6"/>
<g transform="translate(104.6,1285.0)" fill="none" stroke-linecap="round" stroke-linejoin="round"><path d="M0,-23.4 L0,-1.8 L25,21.5 M6.9,-23.4 L6.9,-4 M-25.1,2 L-4.3,2 L19.7,27.1 M-25.1,9.1 L-6.7,9.1" stroke="#c9f3f1" stroke-width="6.4"/><path d="M0,-23.4 L0,-1.8 L25,21.5 M6.9,-23.4 L6.9,-4 M-25.1,2 L-4.3,2 L19.7,27.1 M-25.1,9.1 L-6.7,9.1" stroke="#1e95b2" stroke-width="4.1"/></g>
<g transform="translate(170.6,1285.0) scale(-1,1)" fill="none" stroke-linecap="round" stroke-linejoin="round"><path d="M0,-23.4 L0,-1.8 L25,21.5 M6.9,-23.4 L6.9,-4 M-25.1,2 L-4.3,2 L19.7,27.1 M-25.1,9.1 L-6.7,9.1" stroke="#c9f3f1" stroke-width="6.4"/><path d="M0,-23.4 L0,-1.8 L25,21.5 M6.9,-23.4 L6.9,-4 M-25.1,2 L-4.3,2 L19.7,27.1 M-25.1,9.1 L-6.7,9.1" stroke="#1e95b2" stroke-width="4.1"/></g>
<g transform="translate(237.8,1285.0)" fill="none" stroke-linecap="round" stroke-linejoin="round"><path d="M0,-23.4 L0,-1.8 L25,21.5 M6.9,-23.4 L6.9,-4 M-25.1,2 L-4.3,2 L19.7,27.1 M-25.1,9.1 L-6.7,9.1" stroke="#c9f3f1" stroke-width="6.4"/><path d="M0,-23.4 L0,-1.8 L25,21.5 M6.9,-23.4 L6.9,-4 M-25.1,2 L-4.3,2 L19.7,27.1 M-25.1,9.1 L-6.7,9.1" stroke="#1e95b2" stroke-width="4.1"/></g>
<g transform="translate(303.8,1285.0) scale(-1,1)" fill="none" stroke-linecap="round" stroke-linejoin="round"><path d="M0,-23.4 L0,-1.8 L25,21.5 M6.9,-23.4 L6.9,-4 M-25.1,2 L-4.3,2 L19.7,27.1 M-25.1,9.1 L-6.7,9.1" stroke="#c9f3f1" stroke-width="6.4"/><path d="M0,-23.4 L0,-1.8 L25,21.5 M6.9,-23.4 L6.9,-4 M-25.1,2 L-4.3,2 L19.7,27.1 M-25.1,9.1 L-6.7,9.1" stroke="#1e95b2" stroke-width="4.1"/></g>
<g transform="translate(371.0,1285.0)" fill="none" stroke-linecap="round" stroke-linejoin="round"><path d="M0,-23.4 L0,-1.8 L25,21.5 M6.9,-23.4 L6.9,-4 M-25.1,2 L-4.3,2 L19.7,27.1 M-25.1,9.1 L-6.7,9.1" stroke="#c9f3f1" stroke-width="6.4"/><path d="M0,-23.4 L0,-1.8 L25,21.5 M6.9,-23.4 L6.9,-4 M-25.1,2 L-4.3,2 L19.7,27.1 M-25.1,9.1 L-6.7,9.1" stroke="#1e95b2" stroke-width="4.1"/></g>
<g transform="translate(437.0,1285.0) scale(-1,1)" fill="none" stroke-linecap="round" stroke-linejoin="round"><path d="M0,-23.4 L0,-1.8 L25,21.5 M6.9,-23.4 L6.9,-4 M-25.1,2 L-4.3,2 L19.7,27.1 M-25.1,9.1 L-6.7,9.1" stroke="#c9f3f1" stroke-width="6.4"/><path d="M0,-23.4 L0,-1.8 L25,21.5 M6.9,-23.4 L6.9,-4 M-25.1,2 L-4.3,2 L19.7,27.1 M-25.1,9.1 L-6.7,9.1" stroke="#1e95b2" stroke-width="4.1"/></g>
<g transform="translate(1210.6,725.7) rotate(25.6) scale(1.00)" fill="none" stroke-linecap="butt" stroke-linejoin="miter"><path d="M-1.75,17.6 L-1.75,0.8 L-12.84,-5.60 M-2.82,-3.74 L-11.14,-8.54 M1.75,17.6 L1.75,0.8 L12.84,-5.60 M2.82,-3.74 L11.14,-8.54 " stroke="#c9f3f8" stroke-width="3.6" stroke-linecap="round"/><path d="M-1.75,17.6 L-1.75,0.8 L-12.84,-5.60 M-2.82,-3.74 L-11.14,-8.54 M1.75,17.6 L1.75,0.8 L12.84,-5.60 M2.82,-3.74 L11.14,-8.54 " stroke="#186f8e" stroke-width="2.0"/></g>
<g transform="translate(1246.6,736.0) rotate(71.6) scale(1.00)" fill="none" stroke-linecap="butt" stroke-linejoin="miter"><path d="M-1.75,17.6 L-1.75,0.8 L-12.84,-5.60 M-2.82,-3.74 L-11.14,-8.54 M1.75,17.6 L1.75,0.8 L12.84,-5.60 M2.82,-3.74 L11.14,-8.54 " stroke="#c9f3f8" stroke-width="3.6" stroke-linecap="round"/><path d="M-1.75,17.6 L-1.75,0.8 L-12.84,-5.60 M-2.82,-3.74 L-11.14,-8.54 M1.75,17.6 L1.75,0.8 L12.84,-5.60 M2.82,-3.74 L11.14,-8.54 " stroke="#186f8e" stroke-width="2.0"/></g>
<g transform="translate(1227.3,761.7) rotate(136.5) scale(1.00)" fill="none" stroke-linecap="butt" stroke-linejoin="miter"><path d="M-1.75,17.6 L-1.75,0.8 L-12.84,-5.60 M-2.82,-3.74 L-11.14,-8.54 M1.75,17.6 L1.75,0.8 L12.84,-5.60 M2.82,-3.74 L11.14,-8.54 " stroke="#c9f3f8" stroke-width="3.6" stroke-linecap="round"/><path d="M-1.75,17.6 L-1.75,0.8 L-12.84,-5.60 M-2.82,-3.74 L-11.14,-8.54 M1.75,17.6 L1.75,0.8 L12.84,-5.60 M2.82,-3.74 L11.14,-8.54 " stroke="#186f8e" stroke-width="2.0"/></g>
<g transform="translate(958.2,591.4) rotate(-73.0) scale(1.00)" fill="none" stroke-linecap="butt" stroke-linejoin="miter"><path d="M-1.75,17.6 L-1.75,0.8 L-12.84,-5.60 M-2.82,-3.74 L-11.14,-8.54 M1.75,17.6 L1.75,0.8 L12.84,-5.60 M2.82,-3.74 L11.14,-8.54 " stroke="#c9f3f8" stroke-width="3.6" stroke-linecap="round"/><path d="M-1.75,17.6 L-1.75,0.8 L-12.84,-5.60 M-2.82,-3.74 L-11.14,-8.54 M1.75,17.6 L1.75,0.8 L12.84,-5.60 M2.82,-3.74 L11.14,-8.54 " stroke="#186f8e" stroke-width="2.0"/></g>
<g transform="translate(959.6,945.0) rotate(-82.0) scale(1.00)" fill="none" stroke-linecap="butt" stroke-linejoin="miter"><path d="M-1.75,17.6 L-1.75,0.8 L-12.84,-5.60 M-2.82,-3.74 L-11.14,-8.54 M1.75,17.6 L1.75,0.8 L12.84,-5.60 M2.82,-3.74 L11.14,-8.54 " stroke="#c9f3f8" stroke-width="3.6" stroke-linecap="round"/><path d="M-1.75,17.6 L-1.75,0.8 L-12.84,-5.60 M-2.82,-3.74 L-11.14,-8.54 M1.75,17.6 L1.75,0.8 L12.84,-5.60 M2.82,-3.74 L11.14,-8.54 " stroke="#186f8e" stroke-width="2.0"/></g>
<path d="M1529,968 C1536,978 1545,979.5 1556,979.8 L1615,980.6 L1615,982.6 L1556,983.8 C1548,984 1541,986 1536,990 L1536,996 C1541,1000 1548,1002 1556,1002.2 L1611,1003.2 L1611,1005.2 L1556,1006.2 C1545,1006.5 1536,1008 1529,1018 Z" fill="#fffaf0"/>
<path d="M1536,990 C1541,986 1548,984 1556,983.8 L1615,982.6 L1611,1003.2 L1556,1002.2 C1548,1002 1541,1000 1536,996Z" fill="#fde9c4"/>
<path d="M1349.8,922.1 C1345.8,926.2 1332.7,938.2 1325.7,946.7 C1318.7,955.3 1311.6,965.8 1307.8,973.5 C1304.1,981.2 1303.4,986.3 1303.4,993.1 C1303.4,1000.0 1304.1,1006.5 1307.8,1014.6 C1311.6,1022.6 1318.7,1032.9 1325.7,1041.3 C1332.7,1049.7 1345.8,1061.0 1349.8,1064.9 L1430.5,992.7 Z" fill="#fffdf8"/>
<path d="M1351.6,932.8 C1348.7,935.9 1340.4,944.1 1334.6,951.2 C1328.9,958.3 1320.8,968.3 1317.1,975.3 C1313.5,982.3 1312.7,986.9 1312.7,993.1 C1312.7,999.4 1313.5,1005.5 1317.1,1012.8 C1320.8,1020.1 1328.9,1029.8 1334.6,1036.9 C1340.4,1044.0 1348.7,1052.2 1351.6,1055.3 L1430.5,992.7 Z" fill="#d6e6f0"/>
<circle cx="1430.5" cy="992.7" r="98" fill="#d6e6f0"/>
<path d="M1353.1,925.7 A102.4,102.4 0 1 1 1353.1,1059.7" fill="none" stroke="#fffdf8" stroke-width="5.8"/>
<path d="M1356.0,928.1 A98.6,98.6 0 1 1 1356.0,1057.3" fill="none" stroke="#aecfe0" stroke-width="2.5"/>
<circle cx="1430.5" cy="992.7" r="97.5" fill="#fbe4b4"/>
<circle cx="1430.5" cy="992.7" r="94.6" fill="#dcebf4"/>
<path d="M1350.3,936.4 L1365.9,941.0 L1364.6,956.0 L1343.5,960.1 L1336.8,953.5 Z" fill="#fbe3b0"/>
<path d="M1350.3,1050.6 L1365.9,1046.0 L1364.6,1031.0 L1343.5,1026.9 L1336.8,1033.5 Z" fill="#fbe3b0"/>
<path d="M1343.5,961.4 L1346.8,953.9 M1348.0,961.0 L1350.3,953.5 M1352.8,960.3 L1354.3,953.2 M1357.8,959.2 L1358.5,952.8 M1362.3,958.5 L1362.8,953.5 M1343.5,1025.6 L1346.8,1033.1 M1348.0,1026.0 L1350.3,1033.5 M1352.8,1026.7 L1354.3,1033.8 M1357.8,1027.8 L1358.5,1034.2 M1362.3,1028.5 L1362.8,1033.5 " stroke="#fffdf8" stroke-width="1.7" stroke-linecap="round" fill="none"/>
<ellipse cx="1356.9" cy="993.1" rx="24" ry="33.5" fill="#c5deed"/>
<g fill="none" stroke="#8cc6df" stroke-width="1.05" stroke-linecap="round">
<path d="M1525.6,992.3 C1524.7,990.9 1521.9,987.1 1520.2,984.2 C1518.6,981.4 1517.3,977.7 1515.8,975.3 C1514.3,972.9 1512.8,971.3 1511.3,969.9 C1509.8,968.6 1508.3,969.1 1506.8,967.3 C1505.4,965.5 1503.9,961.5 1502.4,959.2 C1500.9,957.0 1498.7,954.8 1497.9,953.9"/>
<path d="M1511.3,969.9 C1510.1,970.2 1506.3,971.7 1504.2,971.7 C1502.1,971.7 1499.7,970.2 1498.8,969.9"/>
<path d="M1506.8,967.3 C1506.4,966.2 1505.1,961.8 1504.2,961.0 C1503.3,960.3 1501.9,962.5 1501.5,962.8"/>
<path d="M1525.6,992.3 C1524.1,991.5 1519.6,989.1 1516.7,987.8 C1513.7,986.5 1510.7,985.1 1507.7,984.2 C1504.8,983.3 1501.5,983.6 1498.8,982.4 C1496.1,981.2 1494.5,978.3 1491.7,977.1 C1488.9,975.9 1483.5,975.6 1481.9,975.3"/>
<path d="M1498.8,982.4 C1497.9,982.7 1495.2,984.4 1493.5,984.2 C1491.7,984.1 1489.0,982.0 1488.1,981.5"/>
<path d="M1525.6,992.3 C1523.8,992.7 1518.4,993.3 1514.9,994.9 C1511.3,996.6 1507.4,1000.7 1504.2,1002.1 C1500.9,1003.4 1497.3,1003.3 1495.2,1003.0 C1493.2,1002.7 1492.3,1000.7 1491.7,1000.3"/>
<path d="M1525.6,992.3 C1524.1,993.9 1519.6,998.9 1516.7,1002.1 C1513.7,1005.2 1511.3,1009.2 1507.7,1011.0 C1504.2,1012.8 1499.6,1011.3 1495.2,1012.8 C1490.9,1014.3 1484.1,1018.7 1481.9,1019.9"/>
<path d="M1525.6,992.3 C1524.4,994.5 1520.5,1001.3 1518.4,1005.6 C1516.4,1010.0 1515.0,1014.6 1513.1,1018.1 C1511.2,1021.7 1508.3,1024.1 1506.8,1027.1 C1505.4,1030.0 1505.5,1032.9 1504.2,1036.0 C1502.8,1039.1 1499.7,1044.2 1498.8,1045.8"/>
<path d="M1506.8,1027.1 C1506.1,1027.4 1503.7,1027.7 1502.4,1028.8 C1501.0,1030.0 1499.4,1033.3 1498.8,1034.2"/>
<path d="M1525.6,992.3 C1525.0,994.5 1523.4,1001.3 1522.0,1005.6 C1520.7,1010.0 1518.6,1014.0 1517.6,1018.1 C1516.5,1022.3 1516.1,1028.5 1515.8,1030.6"/>
<path d="M1525.6,992.3 C1525.0,990.9 1523.1,987.1 1522.0,984.2 C1521.0,981.4 1519.9,978.3 1519.3,975.3 C1518.7,972.3 1518.6,967.9 1518.4,966.4"/>
</g>
<ellipse cx="1524.6" cy="992.3" rx="2.2" ry="4.5" fill="#7fc0dc"/>
<g transform="translate(1535.0,1334.0) rotate(-36.4)">
<rect x="-15.0" y="-15.0" width="84.6" height="30.0" rx="15.0" fill="#fffefb"/>
<path d="M25.8,-15.0 H54.6 A15.0,15.0 0 0 1 54.6,15.0 H25.8 Q38.4,0 25.8,-15.0 Z" fill="#ea4b27" stroke="#cf3f1f" stroke-width="0.8"/>
<path d="M55.4,-10.8 C66.3,-9.3 68.1,5.2 56.9,11.7 C63.9,3.8 62.9,-6.0 55.4,-10.8 Z" fill="#f47b56"/>
</g>
<g transform="translate(1628.5,1308.8) rotate(42.8)">
<rect x="-9.8" y="-9.8" width="55.9" height="19.5" rx="9.8" fill="#fffefb"/>
<path d="M17.2,-9.8 H36.4 A9.8,9.8 0 0 1 36.4,9.8 H17.2 Q25.4,0 17.2,-9.8 Z" fill="#ea4b27" stroke="#cf3f1f" stroke-width="0.8"/>
<path d="M36.9,-7.0 C44.0,-6.0 45.1,3.4 37.8,7.6 C42.4,2.4 41.7,-3.9 36.9,-7.0 Z" fill="#f47b56"/>
</g>
<g transform="translate(1696.6,1332.1) rotate(-46.5)">
<rect x="-12.2" y="-12.2" width="70.3" height="24.4" rx="12.2" fill="#fffefb"/>
<path d="M21.7,-12.2 H45.9 A12.2,12.2 0 0 1 45.9,12.2 H21.7 Q32.0,0 21.7,-12.2 Z" fill="#ea4b27" stroke="#cf3f1f" stroke-width="0.8"/>
<path d="M46.5,-8.8 C55.4,-7.6 56.9,4.3 47.7,9.5 C53.5,3.0 52.6,-4.9 46.5,-8.8 Z" fill="#f47b56"/>
</g>
<g transform="translate(1768.7,1305.5) rotate(35.4)">
<rect x="-15.5" y="-15.5" width="85.5" height="31.0" rx="15.5" fill="#fffefb"/>
<path d="M25.7,-15.5 H54.5 A15.5,15.5 0 0 1 54.5,15.5 H25.7 Q38.7,0 25.7,-15.5 Z" fill="#ea4b27" stroke="#cf3f1f" stroke-width="0.8"/>
<path d="M55.3,-11.2 C66.6,-9.6 68.4,5.4 56.8,12.1 C64.1,3.9 63.0,-6.2 55.3,-11.2 Z" fill="#f47b56"/>
</g>
<g transform="translate(1864.1,1331.0) rotate(-45.5)">
<rect x="-10.0" y="-10.0" width="55.5" height="20.0" rx="10.0" fill="#fffefb"/>
<path d="M16.7,-10.0 H35.5 A10.0,10.0 0 0 1 35.5,10.0 H16.7 Q25.1,0 16.7,-10.0 Z" fill="#ea4b27" stroke="#cf3f1f" stroke-width="0.8"/>
<path d="M36.0,-7.2 C43.3,-6.2 44.5,3.5 37.0,7.8 C41.7,2.5 41.0,-4.0 36.0,-7.2 Z" fill="#f47b56"/>
</g>
<circle cx="468.8" cy="1022.5" r="125.6" fill="none" stroke="#16536a" stroke-width="2.9" stroke-linecap="round" stroke-dasharray="0 6.576"/>
<path d="M565.0,239.8 L768.0,239.8 L768.0,269.3 A11,11 0 0 1 757.0,280.3 L565.0,280.3 Z" fill="#5d9b2f"/>
<circle cx="564.6" cy="259.3" r="35.3" fill="#b4cb90"/>
<path d="M565.14,265.53 L568.25,266.86 L567.18,270.16 L563.88,269.40 L561.49,272.69 L563.23,275.59 L560.42,277.63 L558.20,275.08 L554.33,276.34 L554.04,279.71 L550.56,279.71 L550.27,276.34 L546.40,275.08 L544.18,277.63 L541.37,275.59 L543.11,272.69 L540.72,269.40 L537.42,270.16 L536.35,266.86 L539.46,265.53 L539.46,261.47 L536.35,260.14 L537.42,256.84 L540.72,257.60 L543.11,254.31 L541.37,251.41 L544.18,249.37 L546.40,251.92 L550.27,250.66 L550.56,247.29 L554.04,247.29 L554.33,250.66 L558.20,251.92 L560.42,249.37 L563.23,251.41 L561.49,254.31 L563.88,257.60 L567.18,256.84 L568.25,260.14 L565.14,261.47Z M548.20,263.50 a4.10,4.10 0 1 0 8.20,0 a4.10,4.10 0 1 0 -8.20,0Z" fill="#fbfff2" fill-rule="evenodd" stroke="#fbfff2" stroke-width="1" stroke-linejoin="round"/>
<path d="M590.07,252.06 L593.00,252.56 L592.69,255.60 L589.73,255.51 L588.22,258.64 L590.14,260.91 L587.95,263.04 L585.73,261.06 L582.56,262.49 L582.58,265.46 L579.53,265.69 L579.10,262.75 L575.76,261.81 L573.86,264.09 L571.38,262.31 L572.94,259.78 L570.98,256.91 L568.06,257.44 L567.31,254.48 L570.13,253.54 L570.47,250.09 L567.90,248.62 L569.22,245.86 L571.98,246.96 L574.47,244.54 L573.44,241.75 L576.23,240.50 L577.64,243.11 L581.10,242.85 L582.10,240.06 L585.04,240.88 L584.44,243.79 L587.26,245.82 L589.83,244.32 L591.55,246.85 L589.22,248.69Z M576.70,252.80 a3.40,3.40 0 1 0 6.80,0 a3.40,3.40 0 1 0 -6.80,0Z" fill="#fbfff2" fill-rule="evenodd" stroke="#fbfff2" stroke-width="1" stroke-linejoin="round"/>
<path d="M77.0,644.8 L296.9,644.8 L296.9,674.2 A11,11 0 0 1 285.9,685.2 L77.0,685.2 Z" fill="#5d9b2f"/>
<circle cx="77.0" cy="664.4" r="35.3" fill="#b4cb90"/>
<circle cx="77" cy="665" r="27.6" fill="#a9c585"/>
<g fill="none" stroke="#fbfff2" stroke-width="2">
<circle cx="77" cy="665" r="27.6"/><ellipse cx="77" cy="665" rx="18.8" ry="27.6"/>
<path d="M77,637.4 V692.6 M49.4,665 H104.6 M53.8,650.1 H100.2 M53.8,680.2 H100.2"/>
</g>
<path d="M1509.0,223.0 L1686.4,223.0 L1686.4,252.8 A11,11 0 0 1 1675.4,263.8 L1509.0,263.8 Z" fill="#5d9b2f"/>
<circle cx="1508.8" cy="243.5" r="35.3" fill="#b4cb90"/>
<circle cx="1499" cy="232.8" r="13.2" fill="none" stroke="#fbfff2" stroke-width="3"/>
<path d="M1510.3,244.6 L1528.4,262.2" stroke="#fbfff2" stroke-width="6.2" stroke-linecap="round"/>
<path d="M1697.0,669.5 L1906.0,669.5 L1906.0,710.3 L1708.0,710.3 A11,11 0 0 1 1697.0,699.3 Z" fill="#5d9b2f"/>
<circle cx="1906.5" cy="690.7" r="35.3" fill="#b4cb90"/>
<text x="1899.0" y="708.0" font-size="52.5" fill="#fbfff2" textLength="25.5" lengthAdjust="spacingAndGlyphs" stroke="#fbfff2" stroke-width="0.5" >R</text>
<text x="1915.2" y="717.2" font-size="46" fill="#fbfff2" textLength="20.5" lengthAdjust="spacingAndGlyphs" stroke="#fbfff2" stroke-width="0.3" >x</text>
<path d="M552.0,1151.7 L718.8,1151.7 L718.8,1181.0 A11,11 0 0 1 707.8,1192.0 L552.0,1192.0 Z" fill="#5d9b2f"/>
<circle cx="552.3" cy="1171.2" r="35.3" fill="#b4cb90"/>
<g fill="none" stroke="#fbfff2" stroke-width="2.4">
<circle cx="537.4" cy="1173.3" r="11.2"/><circle cx="567.1" cy="1173.3" r="11.2"/><circle cx="552.3" cy="1160.7" r="2.7" stroke-width="2"/>
<path d="M529.8,1173.5 A7.8,7.8 0 0 0 538.2,1181.2 M559.5,1173.5 A7.8,7.8 0 0 0 567.9,1181.2" stroke-width="2.2" stroke-linecap="round"/>
</g>
<path d="M529,1165.2 Q537.4,1156.5 549.6,1161.5 L549.5,1165 Q538,1160.5 529,1165.2Z M575.6,1165.2 Q567.1,1156.5 555,1161.5 L555.1,1165 Q566.5,1160.5 575.6,1165.2Z" fill="#fbfff2"/>
<circle cx="84" cy="257.7" r="21" fill="#e8492a"/>
<path d="M71.8,254.8 H85.8 V245.5 L99.6,257.6 L85.8,269.8 V260.4 H71.8Z" fill="#fff5ec"/>
<circle cx="993.9" cy="1148.4" r="14.8" fill="#fbffff"/>
<text x="993.9" y="1157.6" font-size="25.5" fill="#1c6f8e" text-anchor="middle" font-weight="700" >!</text>
<rect x="4" y="167.6" width="1974" height="2.4" fill="#e0512f"/>
<rect x="4" y="5" width="1974" height="1388" fill="none" stroke="#e0512f" stroke-width="4"/>
<path d="M861.0,1379.0 L1129.0,1379.0 A9,9 0 0 1 1138.0,1388.0 L1138.0,1401.0 L852.0,1401.0 L852.0,1388.0 A9,9 0 0 1 861.0,1379.0 Z" fill="#fff" />
<text x="52.4" y="67.2" font-size="17.8" fill="#5a9a32" textLength="104.5" lengthAdjust="spacingAndGlyphs" >PRIMEVIEW</text>
<text x="51.0" y="120.2" font-size="65" fill="#e2502f" textLength="546.0" lengthAdjust="spacingAndGlyphs" font-weight="700" >GRAVES’ DISEASE</text>
<text x="1620.5" y="77.6" font-size="50.5" fill="#111" textLength="290.0" lengthAdjust="spacingAndGlyphs" font-weight="700" font-family="'Liberation Serif',serif" stroke="#111" stroke-width="0.4" >nature reviews</text>
<text x="1621.0" y="118.8" font-size="48.2" fill="#111" textLength="311.0" lengthAdjust="spacingAndGlyphs" stroke="#fff" stroke-width="1.3" >disease primers</text>
<text x="1622.3" y="199.2" font-size="11.3" fill="#231f20" textLength="286.7" lengthAdjust="spacingAndGlyphs" >For the Primer, visit doi:10.1038/s41572-020-0184-y</text>
<text x="73.0" y="1372.6" font-size="11.3" fill="#231f20" textLength="179.5" lengthAdjust="spacingAndGlyphs" >doi:10.1038/s41572-020-0195-8</text>
<text x="1579.5" y="1372.6" font-size="11.3" fill="#231f20" textLength="329.0" lengthAdjust="spacingAndGlyphs" >Written by Deepitha Maennich; designed by Laura Marshall</text>
<text x="871.5" y="1394.7" font-size="9.6" fill="#231f20" textLength="248.0" lengthAdjust="spacingAndGlyphs" stroke="#231f20" stroke-width="0.2" >© 2020 Springer Nature Limited. All rights reserved.</text>
<text x="115.2" y="258.3" font-size="20.3" fill="#fdebdc" textLength="242.5" lengthAdjust="spacingAndGlyphs" font-weight="700" stroke="#f6956f" stroke-width="0.22" >Graves’ disease (GD) is an</text>
<text x="115.2" y="282.5" font-size="20.3" fill="#fdebdc" textLength="274.1" lengthAdjust="spacingAndGlyphs" font-weight="700" stroke="#f6956f" stroke-width="0.22" >autoimmune disorder caused</text>
<text x="72.2" y="306.7" font-size="20.3" fill="#fdebdc" textLength="314.6" lengthAdjust="spacingAndGlyphs" font-weight="700" stroke="#f6956f" stroke-width="0.22" >by autoantibodies to the thyroid-</text>
<text x="72.2" y="330.9" font-size="20.3" fill="#fdebdc" textLength="360.1" lengthAdjust="spacingAndGlyphs" font-weight="700" stroke="#f6956f" stroke-width="0.22" >stimulating hormone receptor (TSHR),</text>
<text x="72.2" y="355.1" font-size="20.3" fill="#fdebdc" textLength="309.4" lengthAdjust="spacingAndGlyphs" font-weight="700" stroke="#f6956f" stroke-width="0.22" >causing overactive thyroid gland</text>
<text x="72.2" y="379.3" font-size="20.3" fill="#fdebdc" textLength="265.5" lengthAdjust="spacingAndGlyphs" font-weight="700" stroke="#f6956f" stroke-width="0.22" >(hyperthyroidism). In severe</text>
<text x="72.2" y="403.5" font-size="20.3" fill="#fdebdc" textLength="219.5" lengthAdjust="spacingAndGlyphs" font-weight="700" stroke="#f6956f" stroke-width="0.22" >cases, patients develop</text>
<text x="72.2" y="427.7" font-size="20.3" fill="#fdebdc" textLength="137.5" lengthAdjust="spacingAndGlyphs" font-weight="700" stroke="#f6956f" stroke-width="0.22" >extrathyroidal</text>
<text x="72.2" y="451.9" font-size="20.3" fill="#fdebdc" textLength="179.6" lengthAdjust="spacingAndGlyphs" font-weight="700" stroke="#f6956f" stroke-width="0.22" >complications such</text>
<text x="72.2" y="476.1" font-size="20.3" fill="#fdebdc" textLength="191.2" lengthAdjust="spacingAndGlyphs" font-weight="700" stroke="#f6956f" stroke-width="0.22" >as sight-threatening</text>
<text x="72.2" y="500.3" font-size="20.3" fill="#fdebdc" textLength="134.5" lengthAdjust="spacingAndGlyphs" font-weight="700" stroke="#f6956f" stroke-width="0.22" >ocular disease</text>
<text x="72.2" y="524.5" font-size="20.3" fill="#fdebdc" textLength="200.1" lengthAdjust="spacingAndGlyphs" font-weight="700" stroke="#f6956f" stroke-width="0.22" >(Graves’ orbitopathy,</text>
<text x="72.2" y="548.7" font-size="20.3" fill="#fdebdc" textLength="185.1" lengthAdjust="spacingAndGlyphs" font-weight="700" stroke="#f6956f" stroke-width="0.22" >GO) and infiltrative</text>
<text x="72.2" y="572.9" font-size="20.3" fill="#fdebdc" textLength="208.7" lengthAdjust="spacingAndGlyphs" font-weight="700" stroke="#f6956f" stroke-width="0.22" >dermopathy (pretibial</text>
<text x="72.2" y="597.1" font-size="20.3" fill="#fdebdc" textLength="180.5" lengthAdjust="spacingAndGlyphs" font-weight="700" stroke="#f6956f" stroke-width="0.22" >myxoedema, PTM).</text>
<text x="73.1" y="730.4" font-size="19" fill="#231f20" textLength="387.6" lengthAdjust="spacingAndGlyphs" >GD occurs at all ages, but its incidence is higher</text>
<text x="73.1" y="754.5" font-size="19" fill="#231f20" textLength="374.7" lengthAdjust="spacingAndGlyphs" >in women (~2%) than in men (0.2%). The global</text>
<text x="73.1" y="778.7" font-size="19" fill="#231f20" textLength="360.3" lengthAdjust="spacingAndGlyphs" >incidence of GD is ~20–40 cases per 100,000</text>
<text x="73.1" y="802.8" font-size="19" fill="#231f20" textLength="369.6" lengthAdjust="spacingAndGlyphs" >population per year. GO is observed in ~5% of</text>
<text x="73.1" y="826.9" font-size="19" fill="#231f20" textLength="374.7" lengthAdjust="spacingAndGlyphs" >patients with GD and is prevalent in 10–16 per</text>
<text x="73.1" y="851.1" font-size="19" fill="#231f20" textLength="384.2" lengthAdjust="spacingAndGlyphs" >10,000 persons, whereas the prevalence of PTM</text>
<text x="73.1" y="875.2" font-size="19" fill="#231f20" textLength="334.9" lengthAdjust="spacingAndGlyphs" >is reported to be 0.15 per 10,000 persons.</text>
<text x="73.1" y="899.4" font-size="19" fill="#231f20" textLength="216.4" lengthAdjust="spacingAndGlyphs" >Risk factors for GD include</text>
<text x="73.1" y="923.5" font-size="19" fill="#231f20" textLength="237.0" lengthAdjust="spacingAndGlyphs" >genetic susceptibility, female</text>
<text x="73.1" y="947.6" font-size="19" fill="#231f20" textLength="217.9" lengthAdjust="spacingAndGlyphs" >sex, pregnancy, stress, viral</text>
<text x="73.1" y="971.8" font-size="19" fill="#231f20" textLength="233.4" lengthAdjust="spacingAndGlyphs" >infection, exposure to iodine</text>
<text x="73.1" y="995.9" font-size="19" fill="#231f20" textLength="206.4" lengthAdjust="spacingAndGlyphs" >and iodine-related drugs,</text>
<text x="73.1" y="1020.1" font-size="19" fill="#231f20" textLength="226.2" lengthAdjust="spacingAndGlyphs" >immune-modulating agents</text>
<text x="73.1" y="1044.2" font-size="19" fill="#231f20" textLength="205.6" lengthAdjust="spacingAndGlyphs" >and microbiotal diversity.</text>
<text x="73.1" y="1068.3" font-size="19" fill="#231f20" textLength="202.5" lengthAdjust="spacingAndGlyphs" >In addition to these, high</text>
<text x="73.1" y="1092.5" font-size="19" fill="#231f20" textLength="206.0" lengthAdjust="spacingAndGlyphs" >TSHR autoantibody titres</text>
<text x="73.1" y="1116.6" font-size="19" fill="#231f20" textLength="181.0" lengthAdjust="spacingAndGlyphs" >are associated with an</text>
<text x="73.1" y="1140.8" font-size="19" fill="#231f20" textLength="244.0" lengthAdjust="spacingAndGlyphs" >increased risk of GO and PTM.</text>
<text x="73.1" y="1164.9" font-size="19" fill="#231f20" textLength="291.0" lengthAdjust="spacingAndGlyphs" >Smoking and radioiodine treatment</text>
<text x="73.1" y="1189.0" font-size="19" fill="#231f20" textLength="285.5" lengthAdjust="spacingAndGlyphs" >are specifically associated with GO</text>
<text x="73.1" y="1213.2" font-size="19" fill="#231f20" textLength="356.5" lengthAdjust="spacingAndGlyphs" >development, and physical trauma has been</text>
<text x="73.1" y="1237.3" font-size="19" fill="#231f20" textLength="215.0" lengthAdjust="spacingAndGlyphs" >shown to exacerbate PTM.</text>
<text x="1502.6" y="318.9" font-size="19" fill="#fde6d4" textLength="378.3" lengthAdjust="spacingAndGlyphs" font-weight="700" stroke="#f0774f" stroke-width="0.22" >The diagnosis of GD can often be established</text>
<text x="1502.6" y="343.0" font-size="19" fill="#fde6d4" textLength="389.9" lengthAdjust="spacingAndGlyphs" font-weight="700" stroke="#f0774f" stroke-width="0.22" >based on clinical symptoms. A confirmation of</text>
<text x="1502.6" y="367.2" font-size="19" fill="#fde6d4" textLength="394.2" lengthAdjust="spacingAndGlyphs" font-weight="700" stroke="#f0774f" stroke-width="0.22" >hyperthyroidism (by measuring serum TSH and</text>
<text x="1502.6" y="391.4" font-size="19" fill="#fde6d4" textLength="394.2" lengthAdjust="spacingAndGlyphs" font-weight="700" stroke="#f0774f" stroke-width="0.22" >free thyroxine levels), visible signs of GO and a</text>
<text x="1502.6" y="415.5" font-size="19" fill="#fde6d4" textLength="401.4" lengthAdjust="spacingAndGlyphs" font-weight="700" stroke="#f0774f" stroke-width="0.22" >diffuse goitre (enlarged thyroid gland) typically</text>
<text x="1502.6" y="439.7" font-size="19" fill="#fde6d4" textLength="366.7" lengthAdjust="spacingAndGlyphs" font-weight="700" stroke="#f0774f" stroke-width="0.22" >confirm a diagnosis. However, if a diagnosis</text>
<text x="1502.6" y="463.8" font-size="19" fill="#fde6d4" textLength="361.6" lengthAdjust="spacingAndGlyphs" font-weight="700" stroke="#f0774f" stroke-width="0.22" >is not evident from clinical presentation, in</text>
<text x="1502.6" y="488.0" font-size="19" fill="#fde6d4" textLength="346.7" lengthAdjust="spacingAndGlyphs" font-weight="700" stroke="#f0774f" stroke-width="0.22" >addition to TSH levels, detection of TSHR</text>
<text x="1502.6" y="512.2" font-size="19" fill="#fde6d4" textLength="352.6" lengthAdjust="spacingAndGlyphs" font-weight="700" stroke="#f0774f" stroke-width="0.22" >autoantibodies can support GD diagnosis.</text>
<text x="1502.6" y="536.3" font-size="19" fill="#fde6d4" textLength="344.4" lengthAdjust="spacingAndGlyphs" font-weight="700" stroke="#f0774f" stroke-width="0.22" >However, if the antibody test is negative,</text>
<text x="1502.6" y="560.5" font-size="19" fill="#fde6d4" textLength="395.8" lengthAdjust="spacingAndGlyphs" font-weight="700" stroke="#f0774f" stroke-width="0.22" >a thyroid scan and uptake (which evaluates the</text>
<text x="1502.6" y="584.6" font-size="19" fill="#fde6d4" textLength="386.0" lengthAdjust="spacingAndGlyphs" font-weight="700" stroke="#f0774f" stroke-width="0.22" >function of the gland) should be performed to</text>
<text x="1502.6" y="608.8" font-size="19" fill="#fde6d4" textLength="195.3" lengthAdjust="spacingAndGlyphs" font-weight="700" stroke="#f0774f" stroke-width="0.22" >establish the diagnosis.</text>
<text x="1221.1" y="201.1" font-size="17.4" fill="#fde3d0" textLength="179.0" lengthAdjust="spacingAndGlyphs" stroke="#fde3d0" stroke-width="0.35" >GD is thought to occur</text>
<text x="1221.1" y="223.2" font-size="17.4" fill="#fde3d0" textLength="180.0" lengthAdjust="spacingAndGlyphs" stroke="#fde3d0" stroke-width="0.35" >when a combination of</text>
<text x="1221.1" y="245.3" font-size="17.4" fill="#fde3d0" textLength="211.7" lengthAdjust="spacingAndGlyphs" stroke="#fde3d0" stroke-width="0.35" >genetic and environmental</text>
<text x="1221.1" y="267.4" font-size="17.4" fill="#fde3d0" textLength="193.0" lengthAdjust="spacingAndGlyphs" stroke="#fde3d0" stroke-width="0.35" >insults exceeds a certain</text>
<text x="1221.1" y="289.5" font-size="17.4" fill="#fde3d0" textLength="201.0" lengthAdjust="spacingAndGlyphs" stroke="#fde3d0" stroke-width="0.35" >threshold in a susceptible</text>
<text x="1221.1" y="311.6" font-size="17.4" fill="#fde3d0" textLength="170.0" lengthAdjust="spacingAndGlyphs" stroke="#fde3d0" stroke-width="0.35" >individual, causing an</text>
<text x="1221.1" y="333.7" font-size="17.4" fill="#fde3d0" textLength="138.0" lengthAdjust="spacingAndGlyphs" stroke="#fde3d0" stroke-width="0.35" >immune response</text>
<text x="1719.0" y="753.8" font-size="19" fill="#231f20" textLength="159.4" lengthAdjust="spacingAndGlyphs" >The main goal in the</text>
<text x="1722.9" y="777.9" font-size="19" fill="#231f20" textLength="154.9" lengthAdjust="spacingAndGlyphs" >management of GD</text>
<text x="1722.9" y="802.1" font-size="19" fill="#231f20" textLength="166.2" lengthAdjust="spacingAndGlyphs" >is to establish normal</text>
<text x="1720.8" y="826.2" font-size="19" fill="#231f20" textLength="186.3" lengthAdjust="spacingAndGlyphs" >thyroid hormone levels.</text>
<text x="1715.7" y="850.4" font-size="19" fill="#231f20" textLength="140.3" lengthAdjust="spacingAndGlyphs" >Antithyroid drugs</text>
<text x="1703.6" y="874.5" font-size="19" fill="#231f20" textLength="186.8" lengthAdjust="spacingAndGlyphs" >such as methimazole or</text>
<text x="1688.7" y="898.7" font-size="19" fill="#231f20" textLength="198.7" lengthAdjust="spacingAndGlyphs" >propylthiouracil are used</text>
<text x="1663.8" y="922.8" font-size="19" fill="#231f20" textLength="194.0" lengthAdjust="spacingAndGlyphs" >to treat hyperthyroidism</text>
<text x="1628.3" y="947.0" font-size="19" fill="#231f20" textLength="238.0" lengthAdjust="spacingAndGlyphs" >in most people. Radioiodine is</text>
<text x="1645.0" y="971.1" font-size="19" fill="#231f20" textLength="259.0" lengthAdjust="spacingAndGlyphs" >recommended for some patients</text>
<text x="1648.3" y="995.3" font-size="19" fill="#231f20" textLength="218.5" lengthAdjust="spacingAndGlyphs" >but is generally disfavoured</text>
<text x="1647.0" y="1019.4" font-size="19" fill="#231f20" textLength="228.8" lengthAdjust="spacingAndGlyphs" >owing to its inherent risk and</text>
<text x="1621.9" y="1043.6" font-size="19" fill="#231f20" textLength="266.7" lengthAdjust="spacingAndGlyphs" >as it exacerbates GO. Intravenous</text>
<text x="1569.2" y="1067.7" font-size="19" fill="#231f20" textLength="284.7" lengthAdjust="spacingAndGlyphs" >glucocorticoid is the recommended</text>
<text x="1538.5" y="1091.9" font-size="19" fill="#231f20" textLength="350.0" lengthAdjust="spacingAndGlyphs" >first-line therapy for patients with moderate</text>
<text x="1505.5" y="1116.0" font-size="19" fill="#231f20" textLength="350.0" lengthAdjust="spacingAndGlyphs" >to severe GO. Second-line therapies include</text>
<text x="1502.0" y="1140.2" font-size="19" fill="#231f20" textLength="388.5" lengthAdjust="spacingAndGlyphs" >teprotumumab, a monoclonal antibody to IGF1R,</text>
<text x="1502.0" y="1164.3" font-size="19" fill="#231f20" textLength="370.0" lengthAdjust="spacingAndGlyphs" >amongst others. Partial or total thyroidectomy,</text>
<text x="1502.0" y="1188.5" font-size="19" fill="#231f20" textLength="342.5" lengthAdjust="spacingAndGlyphs" >although conventional, is still the preferred</text>
<text x="1502.0" y="1212.6" font-size="19" fill="#231f20" textLength="353.5" lengthAdjust="spacingAndGlyphs" >treatment for patients with large goitres and</text>
<text x="1502.0" y="1236.8" font-size="19" fill="#231f20" textLength="370.0" lengthAdjust="spacingAndGlyphs" >with severe GO. The treatment of PTM remains</text>
<text x="1502.0" y="1260.9" font-size="19" fill="#231f20" textLength="288.5" lengthAdjust="spacingAndGlyphs" >challenging and inadequate to date.</text>
<text x="548.6" y="1237.6" font-size="19" fill="#fde6d4" textLength="252.5" lengthAdjust="spacingAndGlyphs" font-weight="700" stroke="#f0774f" stroke-width="0.22" >Progress in understanding the</text>
<text x="548.6" y="1261.8" font-size="19" fill="#fde6d4" textLength="270.2" lengthAdjust="spacingAndGlyphs" font-weight="700" stroke="#f0774f" stroke-width="0.22" >contributions of various genetic</text>
<text x="548.6" y="1286.0" font-size="19" fill="#fde6d4" textLength="223.0" lengthAdjust="spacingAndGlyphs" font-weight="700" stroke="#f0774f" stroke-width="0.22" >factors and environmental</text>
<text x="548.6" y="1310.2" font-size="19" fill="#fde6d4" textLength="253.3" lengthAdjust="spacingAndGlyphs" font-weight="700" stroke="#f0774f" stroke-width="0.22" >insults has been hindered by a</text>
<text x="850.3" y="1237.6" font-size="19" fill="#fde6d4" textLength="252.3" lengthAdjust="spacingAndGlyphs" font-weight="700" stroke="#f0774f" stroke-width="0.22" >lack of animal models. Hence,</text>
<text x="850.3" y="1261.8" font-size="19" fill="#fde6d4" textLength="265.8" lengthAdjust="spacingAndGlyphs" font-weight="700" stroke="#f0774f" stroke-width="0.22" >robust animal models that truly</text>
<text x="850.3" y="1286.0" font-size="19" fill="#fde6d4" textLength="280.3" lengthAdjust="spacingAndGlyphs" font-weight="700" stroke="#f0774f" stroke-width="0.22" >replicate the disease features are</text>
<text x="850.3" y="1310.2" font-size="19" fill="#fde6d4" textLength="267.7" lengthAdjust="spacingAndGlyphs" font-weight="700" stroke="#f0774f" stroke-width="0.22" >needed.  Although treatment of</text>
<text x="1152.6" y="1237.6" font-size="19" fill="#fde6d4" textLength="254.8" lengthAdjust="spacingAndGlyphs" font-weight="700" stroke="#f0774f" stroke-width="0.22" >GD has not changed in several</text>
<text x="1152.6" y="1261.8" font-size="19" fill="#fde6d4" textLength="223.2" lengthAdjust="spacingAndGlyphs" font-weight="700" stroke="#f0774f" stroke-width="0.22" >years, many new potential</text>
<text x="1152.6" y="1286.0" font-size="19" fill="#fde6d4" textLength="250.0" lengthAdjust="spacingAndGlyphs" font-weight="700" stroke="#f0774f" stroke-width="0.22" >drugs are in clinical trials, the</text>
<text x="1152.6" y="1310.2" font-size="19" fill="#fde6d4" textLength="268.4" lengthAdjust="spacingAndGlyphs" font-weight="700" stroke="#f0774f" stroke-width="0.22" >outcomes of which are awaited.</text>
<text x="1019.7" y="1153.5" font-size="18.3" fill="#f3fafc" textLength="365.0" lengthAdjust="spacingAndGlyphs" stroke="#f3fafc" stroke-width="0.3" >The exact aetiology of GD remains unknown</text>
<text x="415.0" y="415.1" font-size="18.4" fill="#1c7896" textLength="50.0" lengthAdjust="spacingAndGlyphs" stroke="#1c7896" stroke-width="0.45" >T cells</text>
<text x="388.2" y="438.3" font-size="18.4" fill="#1c7896" textLength="103.5" lengthAdjust="spacingAndGlyphs" stroke="#1c7896" stroke-width="0.45" >sensitized to</text>
<text x="368.5" y="461.5" font-size="18.4" fill="#1c7896" textLength="143.0" lengthAdjust="spacingAndGlyphs" stroke="#1c7896" stroke-width="0.45" >the TSHR antigen</text>
<text x="366.8" y="484.7" font-size="18.4" fill="#1c7896" textLength="146.5" lengthAdjust="spacingAndGlyphs" stroke="#1c7896" stroke-width="0.45" >become activated</text>
<text x="355.0" y="507.8" font-size="18.4" fill="#1c7896" textLength="170.0" lengthAdjust="spacingAndGlyphs" stroke="#1c7896" stroke-width="0.45" >by pro-inflammatory</text>
<text x="342.2" y="531.0" font-size="18.4" fill="#1c7896" textLength="195.5" lengthAdjust="spacingAndGlyphs" stroke="#1c7896" stroke-width="0.45" >cytokines, which in turn</text>
<text x="368.0" y="554.2" font-size="18.4" fill="#1c7896" textLength="144.0" lengthAdjust="spacingAndGlyphs" stroke="#1c7896" stroke-width="0.45" >activate B cells to</text>
<text x="385.2" y="577.4" font-size="18.4" fill="#1c7896" textLength="109.5" lengthAdjust="spacingAndGlyphs" stroke="#1c7896" stroke-width="0.45" >secrete TSHR</text>
<text x="378.0" y="600.6" font-size="18.4" fill="#1c7896" textLength="124.0" lengthAdjust="spacingAndGlyphs" stroke="#1c7896" stroke-width="0.45" >autoantibodies</text>
<text x="1034.6" y="268.6" font-size="18.4" fill="#1c7896" textLength="78.0" lengthAdjust="spacingAndGlyphs" stroke="#1c7896" stroke-width="0.45" >The TSHR</text>
<text x="1012.8" y="292.0" font-size="18.4" fill="#1c7896" textLength="121.5" lengthAdjust="spacingAndGlyphs" stroke="#1c7896" stroke-width="0.45" >autoantibodies</text>
<text x="1013.8" y="315.3" font-size="18.4" fill="#1c7896" textLength="119.5" lengthAdjust="spacingAndGlyphs" stroke="#1c7896" stroke-width="0.45" >act as agonists</text>
<text x="984.9" y="338.6" font-size="18.4" fill="#1c7896" textLength="177.4" lengthAdjust="spacingAndGlyphs" stroke="#1c7896" stroke-width="0.45" >of the TSHR, inducing</text>
<text x="985.3" y="361.9" font-size="18.4" fill="#1c7896" textLength="176.5" lengthAdjust="spacingAndGlyphs" stroke="#1c7896" stroke-width="0.45" >the thyroid to secrete</text>
<text x="1014.8" y="385.3" font-size="18.4" fill="#1c7896" textLength="117.5" lengthAdjust="spacingAndGlyphs" stroke="#1c7896" stroke-width="0.45" >excess thyroid</text>
<text x="1032.6" y="408.6" font-size="18.4" fill="#1c7896" textLength="82.0" lengthAdjust="spacingAndGlyphs" stroke="#1c7896" stroke-width="0.45" >hormones</text>
<text x="438.8" y="935.8" font-size="18.4" fill="#1c7896" textLength="62.5" lengthAdjust="spacingAndGlyphs" stroke="#1c7896" stroke-width="0.45" >Binding</text>
<text x="437.5" y="959.1" font-size="18.4" fill="#1c7896" textLength="65.0" lengthAdjust="spacingAndGlyphs" stroke="#1c7896" stroke-width="0.45" >of TSHR</text>
<text x="397.5" y="982.4" font-size="18.4" fill="#1c7896" textLength="145.0" lengthAdjust="spacingAndGlyphs" stroke="#1c7896" stroke-width="0.45" >autoantibodies to</text>
<text x="377.5" y="1005.7" font-size="18.4" fill="#1c7896" textLength="185.0" lengthAdjust="spacingAndGlyphs" stroke="#1c7896" stroke-width="0.45" >TSHR expressed in the</text>
<text x="376.2" y="1029.0" font-size="18.4" fill="#1c7896" textLength="187.5" lengthAdjust="spacingAndGlyphs" stroke="#1c7896" stroke-width="0.45" >eye induces cross-talk,</text>
<text x="383.8" y="1052.3" font-size="18.4" fill="#1c7896" textLength="172.5" lengthAdjust="spacingAndGlyphs" stroke="#1c7896" stroke-width="0.45" >which synergistically</text>
<text x="386.2" y="1075.6" font-size="18.4" fill="#1c7896" textLength="167.5" lengthAdjust="spacingAndGlyphs" stroke="#1c7896" stroke-width="0.45" >increases hyaluronic</text>
<text x="405.0" y="1098.9" font-size="18.4" fill="#1c7896" textLength="130.0" lengthAdjust="spacingAndGlyphs" stroke="#1c7896" stroke-width="0.45" >acid production</text>
<text x="1524.8" y="689.3" font-size="18.4" fill="#1c7896" textLength="72.8" lengthAdjust="spacingAndGlyphs" stroke="#1c7896" stroke-width="0.45" >In severe</text>
<text x="1496.5" y="712.5" font-size="18.4" fill="#1c7896" textLength="129.5" lengthAdjust="spacingAndGlyphs" stroke="#1c7896" stroke-width="0.45" >cases, proptosis</text>
<text x="1504.8" y="735.7" font-size="18.4" fill="#1c7896" textLength="112.8" lengthAdjust="spacingAndGlyphs" stroke="#1c7896" stroke-width="0.45" >(protrusion of</text>
<text x="1489.2" y="758.9" font-size="18.4" fill="#1c7896" textLength="144.0" lengthAdjust="spacingAndGlyphs" stroke="#1c7896" stroke-width="0.45" >the eyes forward)</text>
<text x="1479.7" y="782.1" font-size="18.4" fill="#1c7896" textLength="163.0" lengthAdjust="spacingAndGlyphs" stroke="#1c7896" stroke-width="0.45" >occurs owing to the</text>
<text x="1475.5" y="805.3" font-size="18.4" fill="#1c7896" textLength="171.3" lengthAdjust="spacingAndGlyphs" stroke="#1c7896" stroke-width="0.45" >tissue expansion and</text>
<text x="1494.9" y="828.5" font-size="18.4" fill="#1c7896" textLength="132.7" lengthAdjust="spacingAndGlyphs" stroke="#1c7896" stroke-width="0.45" >accumulation of</text>
<text x="1478.2" y="851.7" font-size="18.4" fill="#1c7896" textLength="166.0" lengthAdjust="spacingAndGlyphs" stroke="#1c7896" stroke-width="0.45" >glycosaminoglycans</text>
<text x="611.6" y="267.2" font-size="20" fill="#f4fbe8" textLength="139.1" lengthAdjust="spacingAndGlyphs" font-weight="700" >MECHANISMS</text>
<text x="123.3" y="671.7" font-size="20" fill="#f4fbe8" textLength="157.0" lengthAdjust="spacingAndGlyphs" font-weight="700" >EPIDEMIOLOGY</text>
<text x="1555.0" y="250.2" font-size="20" fill="#f4fbe8" textLength="114.9" lengthAdjust="spacingAndGlyphs" font-weight="700" >DIAGNOSIS</text>
<text x="1711.9" y="696.8" font-size="20" fill="#f4fbe8" textLength="147.0" lengthAdjust="spacingAndGlyphs" font-weight="700" >MANAGEMENT</text>
<text x="600.0" y="1178.2" font-size="20" fill="#f4fbe8" textLength="103.6" lengthAdjust="spacingAndGlyphs" font-weight="700" >OUTLOOK</text>
<text x="626.6" y="418.7" font-size="18.5" fill="#c9402b" textLength="66.8" lengthAdjust="spacingAndGlyphs" font-weight="700" >Thyroid</text>
<text x="635.8" y="441.0" font-size="18.5" fill="#c9402b" textLength="48.5" lengthAdjust="spacingAndGlyphs" font-weight="700" >gland</text>
<text x="1244.0" y="528.8" font-size="18.5" fill="#d9452b" textLength="153.0" lengthAdjust="spacingAndGlyphs" font-weight="700" >Hyperthyroidism</text>
<text x="870.0" y="501.4" font-size="20" fill="#e6b22e" textLength="61.0" lengthAdjust="spacingAndGlyphs" >Colloid</text>
<text x="873.2" y="608.6" font-size="19" fill="#1c7896" textLength="44.0" lengthAdjust="spacingAndGlyphs" >TSHR</text>
<text x="588.1" y="654.5" font-size="18.6" fill="#d9452b" textLength="43.0" lengthAdjust="spacingAndGlyphs" >TSHR</text>
<text x="567.1" y="673.1" font-size="18.6" fill="#d9452b" textLength="64.0" lengthAdjust="spacingAndGlyphs" >peptide</text>
<text x="730.7" y="634.9" font-size="18.6" fill="#2791ad" textLength="73.0" lengthAdjust="spacingAndGlyphs" >Antigen-</text>
<text x="723.0" y="653.5" font-size="18.6" fill="#2791ad" textLength="88.5" lengthAdjust="spacingAndGlyphs" >presenting</text>
<text x="752.7" y="672.1" font-size="18.6" fill="#2791ad" textLength="29.0" lengthAdjust="spacingAndGlyphs" >cell</text>
<text x="914.8" y="700.2" font-size="18.6" fill="#2791ad" textLength="44.0" lengthAdjust="spacingAndGlyphs" >T cell</text>
<text x="1060.8" y="718.0" font-size="18.6" fill="#2791ad" textLength="93.0" lengthAdjust="spacingAndGlyphs" >Plasma cell</text>
<text x="1270.5" y="742.4" font-size="18.6" fill="#2791ad" textLength="44.4" lengthAdjust="spacingAndGlyphs" >TSHR</text>
<text x="1270.5" y="762.4" font-size="18.6" fill="#2791ad" textLength="126.4" lengthAdjust="spacingAndGlyphs" >autoantibodies</text>
<text x="675.5" y="941.3" font-size="18.6" fill="#2791ad" textLength="49.8" lengthAdjust="spacingAndGlyphs" >IGF1R</text>
<text x="773.0" y="1102.4" font-size="18.6" fill="#2791ad" textLength="60.0" lengthAdjust="spacingAndGlyphs" >Orbital</text>
<text x="763.0" y="1120.9" font-size="18.6" fill="#2791ad" textLength="80.0" lengthAdjust="spacingAndGlyphs" >fibroblast</text>
<text x="1058.8" y="961.5" font-size="18" fill="#fdefbe" textLength="182.5" lengthAdjust="spacingAndGlyphs" stroke="#fdefbe" stroke-width="0.55" >Increased hyaluronic</text>
<text x="1088.5" y="980.1" font-size="18" fill="#fdefbe" textLength="123.0" lengthAdjust="spacingAndGlyphs" stroke="#fdefbe" stroke-width="0.55" >acid synthesis</text>
<text x="1387.0" y="985.4" font-size="19.5" fill="#d9452b" textLength="80.0" lengthAdjust="spacingAndGlyphs" font-weight="700" >GRAVES’</text>
<text x="1360.0" y="1007.0" font-size="19.5" fill="#d9452b" textLength="133.0" lengthAdjust="spacingAndGlyphs" font-weight="700" >ORBITOPATHY</text>
<path id="ctp" d="M783,911 Q826,903 871,916" fill="none"/>
<text font-size="19" fill="#e6b22e" textLength="87" lengthAdjust="spacingAndGlyphs"><textPath href="#ctp" textLength="87" lengthAdjust="spacingAndGlyphs">Cross-talk</textPath></text>
</svg></body></html>
